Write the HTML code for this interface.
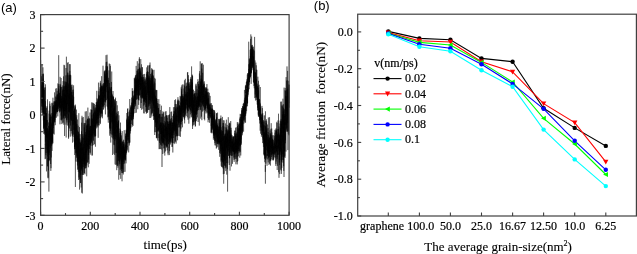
<!DOCTYPE html>
<html><head><meta charset="utf-8"><style>
html,body{margin:0;padding:0;background:#fff;width:637px;height:254px;overflow:hidden}
svg{display:block;will-change:transform}
.t12{font-family:"Liberation Serif",serif;font-size:12px;fill:#000;stroke:#000;stroke-width:0.2px}
.t13{font-family:"Liberation Serif",serif;font-size:13px;fill:#000;stroke:#000;stroke-width:0.12px}
.t8{font-family:"Liberation Serif",serif;font-size:8px}
.sans{font-family:"Liberation Sans",sans-serif;font-size:13px;fill:#000}
</style></head><body>
<svg width="637" height="254" viewBox="0 0 637 254">
<polyline points="40.60,102.4 40.64,60.2 40.68,87.6 40.72,78.4 40.77,79.8 40.81,82.4 40.85,64.7 40.89,82.8 40.93,76.7 40.97,110.2 41.01,88.3 41.06,82.7 41.10,83.7 41.14,79.9 41.18,76.1 41.22,83.4 41.26,93.0 41.30,85.6 41.35,98.8 41.39,86.6 41.43,89.3 41.47,106.4 41.51,95.7 41.55,84.3 41.59,88.2 41.64,96.7 41.68,112.9 41.72,88.1 41.76,88.6 41.80,103.4 41.84,81.7 41.88,88.9 41.93,103.1 41.97,99.9 42.01,94.4 42.05,101.7 42.09,64.6 42.13,106.6 42.17,82.7 42.22,74.2 42.26,98.5 42.30,104.1 42.34,90.1 42.38,82.4 42.42,96.6 42.46,95.9 42.51,115.0 42.55,106.9 42.59,100.0 42.63,112.3 42.67,95.4 42.71,86.2 42.75,106.5 42.80,106.8 42.84,96.4 42.88,89.0 42.92,103.0 42.96,67.3 43.00,110.0 43.04,107.7 43.09,78.6 43.13,102.5 43.17,88.6 43.21,113.0 43.25,74.3 43.29,90.3 43.33,113.6 43.38,120.4 43.42,73.6 43.46,97.6 43.50,109.8 43.54,96.7 43.58,128.9 43.62,89.0 43.67,111.8 43.71,91.7 43.75,128.0 43.79,107.5 43.83,102.7 43.87,83.1 43.91,134.0 43.96,120.6 44.00,121.0 44.04,127.2 44.08,115.8 44.12,101.2 44.16,99.1 44.20,99.4 44.25,133.0 44.29,90.0 44.33,103.6 44.37,108.2 44.41,117.0 44.45,122.9 44.49,94.8 44.54,87.6 44.58,115.0 44.62,134.6 44.66,127.8 44.70,119.7 44.74,111.6 44.78,121.7 44.83,113.5 44.87,130.9 44.91,105.3 44.95,120.7 44.99,117.1 45.03,128.1 45.07,123.2 45.12,159.2 45.16,144.6 45.20,145.0 45.24,87.3 45.28,115.4 45.32,111.3 45.36,130.4 45.41,84.3 45.45,141.7 45.49,140.2 45.53,101.2 45.57,106.9 45.61,110.1 45.65,124.5 45.70,134.8 45.74,158.7 45.78,121.3 45.82,137.8 45.86,127.9 45.90,155.2 45.94,138.4 45.99,149.3 46.03,108.2 46.07,123.5 46.11,113.2 46.15,153.0 46.19,138.9 46.23,122.7 46.28,120.5 46.32,136.9 46.36,116.8 46.40,113.1 46.44,137.7 46.48,171.4 46.52,125.8 46.56,120.7 46.61,110.3 46.65,107.7 46.69,140.4 46.73,146.4 46.77,132.0 46.81,138.0 46.85,134.5 46.90,135.2 46.94,106.2 46.98,125.3 47.02,135.6 47.06,120.1 47.10,125.7 47.14,119.9 47.19,128.7 47.23,149.9 47.27,127.9 47.31,132.6 47.35,149.9 47.39,147.2 47.43,166.0 47.48,99.4 47.52,151.7 47.56,128.3 47.60,139.4 47.64,152.1 47.68,156.6 47.72,156.1 47.77,140.7 47.81,166.6 47.85,133.5 47.89,136.3 47.93,153.1 47.97,129.5 48.01,177.6 48.06,157.7 48.10,178.3 48.14,139.7 48.18,133.7 48.22,143.6 48.26,153.9 48.30,130.8 48.35,148.1 48.39,141.4 48.43,170.4 48.47,130.5 48.51,160.8 48.55,131.3 48.59,125.9 48.64,130.6 48.68,122.4 48.72,146.0 48.76,161.4 48.80,145.9 48.84,153.8 48.88,191.6 48.93,147.2 48.97,145.7 49.01,137.2 49.05,113.6 49.09,155.0 49.13,110.6 49.17,152.7 49.22,140.8 49.26,160.6 49.30,139.5 49.34,126.0 49.38,146.6 49.42,130.3 49.46,136.7 49.51,140.4 49.55,137.1 49.59,136.0 49.63,124.5 49.67,135.6 49.71,101.3 49.75,135.8 49.80,117.4 49.84,157.7 49.88,160.1 49.92,103.7 49.96,140.1 50.00,135.1 50.04,118.9 50.09,146.2 50.13,128.7 50.17,105.8 50.21,131.7 50.25,133.6 50.29,137.8 50.33,114.4 50.38,146.3 50.42,148.2 50.46,115.3 50.50,123.6 50.54,133.4 50.58,124.9 50.62,164.0 50.67,137.6 50.71,117.0 50.75,120.6 50.79,132.5 50.83,170.9 50.87,130.1 50.91,134.9 50.96,140.8 51.00,131.8 51.04,168.2 51.08,123.6 51.12,143.3 51.16,134.0 51.20,140.8 51.25,113.2 51.29,157.5 51.33,128.8 51.37,130.9 51.41,116.5 51.45,119.4 51.49,137.9 51.54,143.7 51.58,140.0 51.62,146.1 51.66,138.9 51.70,129.1 51.74,139.9 51.78,136.3 51.83,126.7 51.87,102.8 51.91,144.6 51.95,130.5 51.99,122.5 52.03,136.2 52.07,150.9 52.12,123.9 52.16,125.1 52.20,124.4 52.24,140.8 52.28,103.4 52.32,129.8 52.36,139.4 52.41,115.4 52.45,142.1 52.49,130.7 52.53,118.0 52.57,126.4 52.61,106.5 52.65,117.2 52.70,143.7 52.74,113.1 52.78,143.1 52.82,121.6 52.86,133.1 52.90,122.5 52.94,97.7 52.99,115.4 53.03,123.2 53.07,108.9 53.11,106.6 53.15,124.3 53.19,113.5 53.23,102.6 53.28,112.7 53.32,128.1 53.36,114.4 53.40,128.2 53.44,133.8 53.48,118.7 53.52,107.1 53.57,105.3 53.61,117.4 53.65,125.8 53.69,119.7 53.73,122.0 53.77,112.5 53.81,119.1 53.86,111.8 53.90,112.9 53.94,103.9 53.98,101.2 54.02,110.8 54.06,105.0 54.10,106.1 54.15,120.1 54.19,113.1 54.23,134.5 54.27,121.4 54.31,107.9 54.35,119.5 54.39,115.7 54.44,106.9 54.48,121.2 54.52,105.7 54.56,92.4 54.60,117.8 54.64,106.4 54.68,122.6 54.73,105.7 54.77,101.4 54.81,122.0 54.85,101.8 54.89,111.2 54.93,120.1 54.97,110.0 55.02,108.4 55.06,109.5 55.10,114.8 55.14,102.6 55.18,112.8 55.22,112.4 55.26,125.2 55.31,105.4 55.35,101.0 55.39,113.0 55.43,104.5 55.47,109.4 55.51,108.1 55.55,115.7 55.60,102.0 55.64,106.0 55.68,88.6 55.72,99.8 55.76,117.7 55.80,101.0 55.84,100.7 55.89,96.7 55.93,110.0 55.97,106.8 56.01,96.5 56.05,110.2 56.09,107.0 56.13,110.6 56.18,99.9 56.22,117.7 56.26,107.6 56.30,103.4 56.34,100.2 56.38,102.2 56.42,110.4 56.47,101.7 56.51,111.8 56.55,107.9 56.59,113.6 56.63,109.4 56.67,102.5 56.71,88.2 56.76,105.0 56.80,108.6 56.84,103.6 56.88,106.5 56.92,98.4 56.96,99.0 57.00,94.5 57.05,112.2 57.09,102.7 57.13,97.5 57.17,90.8 57.21,99.8 57.25,112.1 57.29,104.3 57.34,94.9 57.38,111.6 57.42,111.5 57.46,107.8 57.50,106.2 57.54,109.1 57.58,104.3 57.63,106.2 57.67,93.8 57.71,112.0 57.75,101.9 57.79,116.4 57.83,83.4 57.87,105.8 57.92,108.1 57.96,97.2 58.00,103.7 58.04,106.2 58.08,104.8 58.12,95.5 58.16,98.8 58.21,108.6 58.25,110.9 58.29,100.8 58.33,100.7 58.37,101.7 58.41,109.0 58.45,90.8 58.49,88.4 58.54,101.1 58.58,90.3 58.62,94.8 58.66,100.8 58.70,55.2 58.74,90.4 58.78,107.2 58.83,84.0 58.87,104.9 58.91,85.6 58.95,88.3 58.99,105.9 59.03,96.3 59.07,92.6 59.12,95.9 59.16,104.3 59.20,99.5 59.24,99.7 59.28,110.0 59.32,93.2 59.36,95.5 59.41,95.0 59.45,111.2 59.49,109.5 59.53,112.4 59.57,99.7 59.61,98.5 59.65,108.3 59.70,96.1 59.74,108.2 59.78,107.2 59.82,93.1 59.86,99.2 59.90,98.8 59.94,117.4 59.99,124.3 60.03,99.0 60.07,100.2 60.11,76.8 60.15,102.3 60.19,100.0 60.23,89.1 60.28,108.3 60.32,83.9 60.36,98.0 60.40,101.7 60.44,87.1 60.48,109.3 60.52,111.5 60.57,85.6 60.61,85.3 60.65,106.9 60.69,100.1 60.73,87.3 60.77,97.3 60.81,99.3 60.86,98.9 60.90,109.6 60.94,104.8 60.98,120.2 61.02,115.9 61.06,108.2 61.10,78.0 61.15,115.6 61.19,108.7 61.23,86.9 61.27,110.5 61.31,101.6 61.35,119.3 61.39,101.9 61.44,106.9 61.48,104.7 61.52,120.4 61.56,103.0 61.60,97.8 61.64,104.6 61.68,95.8 61.73,103.0 61.77,101.0 61.81,104.3 61.85,124.1 61.89,96.3 61.93,101.6 61.97,98.8 62.02,109.4 62.06,86.9 62.10,92.8 62.14,100.8 62.18,108.0 62.22,100.8 62.26,95.2 62.31,90.6 62.35,107.8 62.39,119.4 62.43,105.5 62.47,103.8 62.51,107.1 62.55,89.5 62.60,97.4 62.64,97.9 62.68,105.1 62.72,100.8 62.76,85.4 62.80,115.8 62.84,123.2 62.89,97.6 62.93,106.2 62.97,104.5 63.01,111.3 63.05,81.1 63.09,122.4 63.13,94.4 63.18,117.8 63.22,101.7 63.26,95.3 63.30,98.6 63.34,112.8 63.38,88.5 63.42,95.2 63.47,93.6 63.51,76.4 63.55,118.5 63.59,108.3 63.63,99.8 63.67,116.6 63.71,86.4 63.76,98.9 63.80,124.7 63.84,114.0 63.88,67.7 63.92,64.8 63.96,84.6 64.00,115.2 64.05,92.7 64.09,96.4 64.13,108.5 64.17,86.4 64.21,102.6 64.25,111.2 64.29,106.4 64.34,105.3 64.38,90.1 64.42,107.0 64.46,92.6 64.50,119.1 64.54,136.0 64.58,87.6 64.63,65.3 64.67,92.3 64.71,104.7 64.75,115.2 64.79,115.7 64.83,86.4 64.87,86.1 64.92,118.7 64.96,81.2 65.00,115.9 65.04,94.8 65.08,110.7 65.12,109.7 65.16,110.8 65.21,111.5 65.25,82.2 65.29,102.9 65.33,98.3 65.37,103.0 65.41,118.0 65.45,93.5 65.50,86.3 65.54,85.9 65.58,92.7 65.62,110.1 65.66,84.3 65.70,116.7 65.74,102.4 65.79,93.8 65.83,75.4 65.87,101.5 65.91,108.8 65.95,68.0 65.99,117.1 66.03,124.7 66.08,102.8 66.12,105.3 66.16,137.5 66.20,117.7 66.24,81.8 66.28,96.6 66.32,94.2 66.37,94.2 66.41,56.7 66.45,109.5 66.49,85.8 66.53,99.4 66.57,94.2 66.61,111.4 66.66,91.4 66.70,82.7 66.74,105.5 66.78,120.4 66.82,90.7 66.86,119.8 66.90,100.7 66.95,86.8 66.99,122.5 67.03,81.8 67.07,113.7 67.11,87.5 67.15,104.0 67.19,74.9 67.24,81.9 67.28,114.8 67.32,99.7 67.36,97.2 67.40,89.0 67.44,104.3 67.48,72.6 67.53,77.5 67.57,94.1 67.61,62.9 67.65,84.9 67.69,95.7 67.73,94.7 67.77,93.3 67.82,125.6 67.86,114.5 67.90,118.2 67.94,96.8 67.98,88.8 68.02,72.7 68.06,91.6 68.11,62.1 68.15,87.7 68.19,110.6 68.23,125.2 68.27,114.1 68.31,83.3 68.35,106.2 68.40,84.6 68.44,111.9 68.48,96.2 68.52,112.6 68.56,138.8 68.60,113.8 68.64,137.5 68.69,101.3 68.73,92.9 68.77,120.8 68.81,127.4 68.85,89.3 68.89,99.9 68.93,74.7 68.98,95.4 69.02,113.6 69.06,97.4 69.10,89.5 69.14,75.6 69.18,105.2 69.22,112.4 69.27,109.1 69.31,103.5 69.35,78.2 69.39,128.5 69.43,98.5 69.47,97.1 69.51,111.7 69.56,64.1 69.60,98.9 69.64,97.9 69.68,106.4 69.72,122.5 69.76,108.4 69.80,70.9 69.85,95.5 69.89,104.5 69.93,103.8 69.97,80.8 70.01,74.8 70.05,110.8 70.09,107.6 70.14,102.0 70.18,74.8 70.22,131.1 70.26,64.2 70.30,97.2 70.34,136.6 70.38,100.9 70.42,107.3 70.47,85.0 70.51,125.5 70.55,83.7 70.59,108.3 70.63,106.6 70.67,88.1 70.71,118.8 70.76,82.8 70.80,75.3 70.84,104.9 70.88,99.1 70.92,113.0 70.96,120.3 71.00,101.6 71.05,97.9 71.09,98.5 71.13,101.0 71.17,119.3 71.21,103.7 71.25,113.5 71.29,106.0 71.34,94.7 71.38,120.9 71.42,92.1 71.46,108.2 71.50,130.9 71.54,91.9 71.58,107.8 71.63,84.9 71.67,101.4 71.71,86.7 71.75,104.0 71.79,101.5 71.83,111.7 71.87,133.6 71.92,114.3 71.96,120.1 72.00,109.7 72.04,107.1 72.08,98.6 72.12,84.6 72.16,112.4 72.21,135.6 72.25,118.8 72.29,104.2 72.33,136.5 72.37,106.2 72.41,103.7 72.45,95.3 72.50,99.2 72.54,109.8 72.58,142.6 72.62,110.9 72.66,99.1 72.70,105.6 72.74,111.3 72.79,90.1 72.83,116.8 72.87,125.2 72.91,120.0 72.95,124.2 72.99,97.4 73.03,91.9 73.08,134.6 73.12,132.1 73.16,94.9 73.20,89.5 73.24,117.6 73.28,125.1 73.32,120.6 73.37,110.8 73.41,120.8 73.45,120.5 73.49,117.9 73.53,92.9 73.57,85.3 73.61,108.2 73.66,96.7 73.70,123.2 73.74,129.8 73.78,123.8 73.82,115.2 73.86,121.5 73.90,136.9 73.95,111.0 73.99,133.9 74.03,131.2 74.07,125.3 74.11,141.7 74.15,112.3 74.19,135.2 74.24,110.0 74.28,112.4 74.32,108.7 74.36,129.3 74.40,110.8 74.44,124.4 74.48,108.6 74.53,138.5 74.57,149.2 74.61,127.9 74.65,147.3 74.69,133.0 74.73,155.0 74.77,127.5 74.82,105.3 74.86,146.9 74.90,125.4 74.94,113.5 74.98,118.9 75.02,106.1 75.06,126.1 75.11,114.3 75.15,149.1 75.19,138.4 75.23,107.2 75.27,109.6 75.31,122.7 75.35,104.6 75.40,187.0 75.44,130.7 75.48,121.2 75.52,124.5 75.56,139.0 75.60,151.9 75.64,153.2 75.69,133.7 75.73,145.2 75.77,123.9 75.81,139.8 75.85,121.5 75.89,144.8 75.93,118.3 75.98,122.4 76.02,161.5 76.06,143.7 76.10,116.9 76.14,129.5 76.18,139.0 76.22,140.6 76.27,126.3 76.31,139.4 76.35,134.8 76.39,157.9 76.43,146.7 76.47,121.3 76.51,109.6 76.56,141.4 76.60,156.5 76.64,143.1 76.68,153.1 76.72,134.7 76.76,123.0 76.80,115.2 76.85,143.7 76.89,152.0 76.93,124.0 76.97,145.8 77.01,135.0 77.05,154.8 77.09,135.8 77.14,135.6 77.18,136.0 77.22,161.8 77.26,144.8 77.30,133.9 77.34,130.4 77.38,130.2 77.43,165.5 77.47,119.5 77.51,133.2 77.55,154.3 77.59,162.2 77.63,143.5 77.67,156.9 77.72,156.7 77.76,160.1 77.80,146.8 77.84,170.0 77.88,149.5 77.92,168.9 77.96,131.1 78.01,160.8 78.05,129.1 78.09,125.7 78.13,154.9 78.17,135.7 78.21,154.5 78.25,132.4 78.30,171.9 78.34,148.6 78.38,132.0 78.42,151.4 78.46,162.1 78.50,137.7 78.54,157.0 78.59,180.0 78.63,162.6 78.67,149.6 78.71,141.4 78.75,158.8 78.79,127.4 78.83,113.2 78.88,140.5 78.92,134.3 78.96,177.4 79.00,153.1 79.04,136.2 79.08,133.6 79.12,159.1 79.17,138.9 79.21,142.8 79.25,150.5 79.29,153.5 79.33,153.8 79.37,154.2 79.41,172.8 79.46,179.2 79.50,127.1 79.54,189.6 79.58,155.2 79.62,172.8 79.66,141.9 79.70,158.8 79.75,157.2 79.79,155.7 79.83,167.6 79.87,164.3 79.91,138.4 79.95,152.6 79.99,166.3 80.04,165.7 80.08,149.4 80.12,150.3 80.16,152.3 80.20,137.2 80.24,134.2 80.28,179.9 80.33,148.5 80.37,156.4 80.41,142.9 80.45,175.6 80.49,182.9 80.53,151.4 80.57,163.1 80.62,142.9 80.66,183.1 80.70,169.8 80.74,141.6 80.78,174.9 80.82,160.8 80.86,161.6 80.91,160.8 80.95,144.4 80.99,146.5 81.03,165.0 81.07,154.3 81.11,140.0 81.15,187.5 81.20,151.8 81.24,146.2 81.28,144.0 81.32,166.2 81.36,170.7 81.40,159.1 81.44,169.1 81.49,131.3 81.53,149.3 81.57,147.7 81.61,155.3 81.65,163.0 81.69,122.7 81.73,192.7 81.78,141.4 81.82,160.7 81.86,168.5 81.90,168.8 81.94,159.1 81.98,115.8 82.02,137.9 82.06,167.3 82.11,140.5 82.15,138.3 82.19,117.6 82.23,174.6 82.27,163.3 82.31,193.5 82.35,153.0 82.40,153.5 82.44,137.3 82.48,150.7 82.52,159.0 82.56,163.7 82.60,175.0 82.64,155.1 82.69,147.1 82.73,160.9 82.77,144.2 82.81,134.0 82.85,172.6 82.89,147.8 82.93,155.8 82.98,164.3 83.02,135.7 83.06,164.0 83.10,160.8 83.14,151.8 83.18,159.8 83.22,140.8 83.27,117.0 83.31,148.4 83.35,138.0 83.39,167.1 83.43,157.1 83.47,143.9 83.51,153.4 83.56,174.9 83.60,171.2 83.64,158.4 83.68,159.4 83.72,147.5 83.76,149.8 83.80,161.8 83.85,149.8 83.89,156.7 83.93,132.9 83.97,123.5 84.01,122.9 84.05,144.0 84.09,173.6 84.14,171.1 84.18,134.2 84.22,124.6 84.26,164.3 84.30,158.7 84.34,127.4 84.38,168.6 84.43,153.5 84.47,173.0 84.51,156.2 84.55,165.5 84.59,155.7 84.63,133.7 84.67,146.0 84.72,138.2 84.76,164.1 84.80,132.5 84.84,123.1 84.88,161.3 84.92,169.3 84.96,174.4 85.01,168.2 85.05,123.0 85.09,136.9 85.13,139.4 85.17,148.3 85.21,111.5 85.25,148.3 85.30,153.1 85.34,132.0 85.38,150.2 85.42,168.4 85.46,148.7 85.50,165.8 85.54,164.9 85.59,154.5 85.63,153.9 85.67,141.0 85.71,168.2 85.75,139.1 85.79,135.2 85.83,158.7 85.88,134.6 85.92,153.8 85.96,164.2 86.00,147.7 86.04,148.0 86.08,161.4 86.12,158.6 86.17,120.4 86.21,124.1 86.25,167.7 86.29,152.1 86.33,111.2 86.37,123.2 86.41,145.7 86.46,129.1 86.50,152.7 86.54,146.2 86.58,152.9 86.62,125.7 86.66,154.7 86.70,176.3 86.75,131.6 86.79,165.5 86.83,160.0 86.87,154.5 86.91,142.9 86.95,125.2 86.99,129.7 87.04,155.9 87.08,159.2 87.12,162.9 87.16,158.6 87.20,157.5 87.24,136.2 87.28,123.9 87.33,146.1 87.37,150.6 87.41,144.0 87.45,118.6 87.49,134.2 87.53,119.1 87.57,144.4 87.62,125.6 87.66,139.2 87.70,146.6 87.74,143.5 87.78,162.3 87.82,124.2 87.86,107.6 87.91,155.2 87.95,161.9 87.99,162.1 88.03,144.6 88.07,148.2 88.11,141.8 88.15,120.4 88.20,131.1 88.24,146.9 88.28,130.8 88.32,167.3 88.36,116.3 88.40,132.5 88.44,154.9 88.49,129.6 88.53,121.9 88.57,118.5 88.61,127.5 88.65,159.6 88.69,143.5 88.73,144.9 88.78,129.9 88.82,149.2 88.86,138.5 88.90,123.9 88.94,130.3 88.98,139.4 89.02,152.7 89.07,135.4 89.11,143.0 89.15,163.8 89.19,124.7 89.23,118.5 89.27,148.8 89.31,141.2 89.36,133.7 89.40,138.5 89.44,130.3 89.48,141.5 89.52,129.9 89.56,144.9 89.60,118.5 89.65,123.0 89.69,135.3 89.73,127.4 89.77,142.5 89.81,132.7 89.85,126.0 89.89,135.6 89.94,125.9 89.98,112.5 90.02,117.8 90.06,122.0 90.10,126.2 90.14,133.4 90.18,143.7 90.23,139.0 90.27,154.6 90.31,148.1 90.35,129.3 90.39,152.7 90.43,146.6 90.47,125.7 90.52,135.3 90.56,145.1 90.60,134.2 90.64,143.9 90.68,136.0 90.72,139.8 90.76,126.8 90.81,135.5 90.85,126.0 90.89,139.0 90.93,109.3 90.97,134.5 91.01,145.9 91.05,137.4 91.10,129.7 91.14,136.6 91.18,119.3 91.22,119.4 91.26,125.2 91.30,127.7 91.34,141.4 91.39,118.3 91.43,141.6 91.47,109.8 91.51,119.4 91.55,128.5 91.59,143.1 91.63,121.2 91.68,102.4 91.72,133.7 91.76,128.1 91.80,115.2 91.84,115.5 91.88,119.7 91.92,129.3 91.97,136.0 92.01,109.9 92.05,155.5 92.09,127.2 92.13,123.1 92.17,135.6 92.21,128.7 92.26,155.4 92.30,140.4 92.34,122.7 92.38,122.3 92.42,120.9 92.46,122.7 92.50,134.7 92.55,118.9 92.59,145.7 92.63,125.4 92.67,124.6 92.71,137.5 92.75,102.6 92.79,114.9 92.84,133.0 92.88,125.9 92.92,125.6 92.96,130.3 93.00,118.4 93.04,123.4 93.08,109.3 93.13,103.2 93.17,139.9 93.21,114.0 93.25,116.5 93.29,141.1 93.33,137.1 93.37,118.4 93.42,118.2 93.46,123.4 93.50,113.0 93.54,130.5 93.58,125.7 93.62,125.4 93.66,132.6 93.71,132.1 93.75,145.1 93.79,141.2 93.83,103.4 93.87,133.8 93.91,110.1 93.95,106.4 93.99,131.3 94.04,114.7 94.08,119.1 94.12,135.1 94.16,114.8 94.20,112.0 94.24,126.1 94.28,136.5 94.33,128.3 94.37,104.0 94.41,114.4 94.45,120.1 94.49,144.1 94.53,132.0 94.57,131.4 94.62,135.4 94.66,117.7 94.70,126.8 94.74,126.8 94.78,109.7 94.82,120.7 94.86,127.3 94.91,108.2 94.95,129.9 94.99,129.3 95.03,132.3 95.07,111.3 95.11,121.4 95.15,136.9 95.20,129.1 95.24,110.7 95.28,122.3 95.32,136.0 95.36,118.7 95.40,123.8 95.44,146.7 95.49,118.8 95.53,117.9 95.57,107.4 95.61,111.3 95.65,135.9 95.69,117.1 95.73,104.9 95.78,107.7 95.82,118.4 95.86,127.0 95.90,109.6 95.94,126.2 95.98,112.3 96.02,121.8 96.07,123.6 96.11,124.4 96.15,112.4 96.19,115.2 96.23,122.8 96.27,102.1 96.31,118.7 96.36,122.4 96.40,128.4 96.44,115.8 96.48,114.0 96.52,117.6 96.56,107.5 96.60,113.3 96.65,120.2 96.69,118.6 96.73,103.3 96.77,111.4 96.81,90.8 96.85,123.9 96.89,108.6 96.94,117.2 96.98,101.9 97.02,113.3 97.06,119.1 97.10,125.1 97.14,98.3 97.18,123.2 97.23,111.6 97.27,104.5 97.31,118.6 97.35,109.7 97.39,109.6 97.43,104.8 97.47,115.2 97.52,112.9 97.56,110.4 97.60,101.4 97.64,106.3 97.68,116.5 97.72,126.3 97.76,111.4 97.81,127.5 97.85,111.3 97.89,99.0 97.93,118.3 97.97,100.1 98.01,115.4 98.05,122.8 98.10,107.2 98.14,109.5 98.18,137.8 98.22,112.9 98.26,113.1 98.30,118.8 98.34,108.8 98.39,108.7 98.43,113.9 98.47,82.6 98.51,125.2 98.55,97.2 98.59,97.0 98.63,115.0 98.68,109.1 98.72,94.7 98.76,110.9 98.80,95.7 98.84,100.5 98.88,91.3 98.92,98.8 98.97,112.4 99.01,109.2 99.05,111.1 99.09,117.8 99.13,106.8 99.17,99.8 99.21,103.9 99.26,125.4 99.30,107.1 99.34,110.1 99.38,105.3 99.42,109.0 99.46,111.0 99.50,105.8 99.55,104.0 99.59,96.8 99.63,95.9 99.67,109.9 99.71,113.6 99.75,115.5 99.79,105.5 99.84,95.4 99.88,111.7 99.92,111.4 99.96,87.2 100.00,113.2 100.04,110.6 100.08,122.8 100.13,90.8 100.17,88.9 100.21,112.3 100.25,82.7 100.29,94.7 100.33,124.1 100.37,91.2 100.42,80.8 100.46,99.8 100.50,113.5 100.54,107.2 100.58,107.1 100.62,97.8 100.66,118.3 100.71,107.7 100.75,113.5 100.79,83.5 100.83,105.1 100.87,87.9 100.91,104.9 100.95,103.0 101.00,87.6 101.04,102.5 101.08,113.7 101.12,106.0 101.16,106.9 101.20,89.9 101.24,91.9 101.29,86.7 101.33,101.0 101.37,113.1 101.41,104.2 101.45,99.0 101.49,85.8 101.53,103.9 101.58,95.8 101.62,76.2 101.66,78.1 101.70,94.1 101.74,87.5 101.78,117.1 101.82,98.1 101.87,85.4 101.91,91.7 101.95,115.8 101.99,86.0 102.03,105.9 102.07,101.9 102.11,113.7 102.16,102.6 102.20,91.6 102.24,102.2 102.28,96.7 102.32,107.0 102.36,94.9 102.40,118.3 102.45,94.1 102.49,100.2 102.53,87.4 102.57,96.3 102.61,95.0 102.65,96.4 102.69,104.6 102.74,88.1 102.78,84.4 102.82,106.4 102.86,90.5 102.90,86.0 102.94,106.4 102.98,102.0 103.03,65.7 103.07,88.7 103.11,101.5 103.15,101.9 103.19,86.7 103.23,109.7 103.27,83.3 103.32,89.4 103.36,93.2 103.40,91.6 103.44,100.4 103.48,102.6 103.52,90.7 103.56,106.4 103.61,83.3 103.65,88.3 103.69,109.3 103.73,91.4 103.77,101.8 103.81,85.3 103.85,87.0 103.90,88.6 103.94,91.4 103.98,85.7 104.02,89.4 104.06,96.3 104.10,101.9 104.14,89.9 104.19,95.6 104.23,98.2 104.27,76.8 104.31,71.3 104.35,105.2 104.39,101.8 104.43,88.2 104.48,91.2 104.52,77.3 104.56,72.4 104.60,90.4 104.64,70.8 104.68,96.6 104.72,79.1 104.77,89.6 104.81,107.5 104.85,106.9 104.89,82.9 104.93,97.7 104.97,74.1 105.01,78.9 105.06,89.5 105.10,100.9 105.14,78.5 105.18,91.1 105.22,85.9 105.26,69.9 105.30,82.8 105.35,101.8 105.39,83.0 105.43,114.4 105.47,93.6 105.51,74.9 105.55,98.2 105.59,101.4 105.64,102.5 105.68,98.9 105.72,77.2 105.76,75.5 105.80,72.9 105.84,71.2 105.88,72.4 105.92,94.4 105.97,100.2 106.01,55.2 106.05,92.2 106.09,66.2 106.13,78.2 106.17,69.9 106.21,62.1 106.26,83.4 106.30,83.8 106.34,77.9 106.38,76.5 106.42,70.8 106.46,81.8 106.50,76.0 106.55,86.8 106.59,68.6 106.63,86.9 106.67,90.6 106.71,100.1 106.75,97.8 106.79,87.0 106.84,76.1 106.88,61.7 106.92,85.0 106.96,103.2 107.00,106.5 107.04,54.7 107.08,76.0 107.13,81.4 107.17,72.7 107.21,88.5 107.25,86.8 107.29,79.8 107.33,86.1 107.37,66.4 107.42,74.5 107.46,75.6 107.50,98.7 107.54,66.5 107.58,84.8 107.62,97.6 107.66,87.1 107.71,98.4 107.75,79.8 107.79,93.9 107.83,100.1 107.87,117.3 107.91,98.1 107.95,107.3 108.00,89.2 108.04,90.6 108.08,110.0 108.12,97.5 108.16,108.8 108.20,99.8 108.24,118.8 108.29,122.7 108.33,80.2 108.37,116.5 108.41,97.7 108.45,98.6 108.49,90.9 108.53,102.5 108.58,77.8 108.62,83.3 108.66,83.0 108.70,97.9 108.74,119.7 108.78,104.7 108.82,99.9 108.87,86.6 108.91,70.4 108.95,101.3 108.99,97.9 109.03,101.2 109.07,116.9 109.11,94.0 109.16,94.0 109.20,63.5 109.24,105.7 109.28,97.0 109.32,87.1 109.36,104.0 109.40,83.1 109.45,90.8 109.49,128.5 109.53,110.7 109.57,113.6 109.61,111.2 109.65,109.9 109.69,103.4 109.74,135.7 109.78,99.8 109.82,112.6 109.86,98.1 109.90,96.3 109.94,64.0 109.98,72.2 110.03,126.8 110.07,126.1 110.11,96.0 110.15,102.6 110.19,113.0 110.23,133.5 110.27,131.7 110.32,87.5 110.36,92.7 110.40,65.8 110.44,128.6 110.48,105.7 110.52,130.8 110.56,89.2 110.61,110.8 110.65,106.8 110.69,109.0 110.73,139.2 110.77,142.6 110.81,128.6 110.85,100.2 110.90,121.2 110.94,128.7 110.98,116.3 111.02,116.7 111.06,115.5 111.10,93.4 111.14,112.1 111.19,134.4 111.23,92.4 111.27,110.1 111.31,122.6 111.35,87.0 111.39,107.2 111.43,81.9 111.48,99.9 111.52,87.0 111.56,95.6 111.60,102.4 111.64,106.1 111.68,107.5 111.72,71.5 111.77,137.4 111.81,106.9 111.85,93.6 111.89,101.5 111.93,117.2 111.97,95.7 112.01,105.6 112.06,104.9 112.10,121.9 112.14,100.7 112.18,120.9 112.22,119.4 112.26,111.3 112.30,134.7 112.35,114.5 112.39,94.7 112.43,119.6 112.47,116.9 112.51,114.4 112.55,119.2 112.59,155.0 112.64,119.6 112.68,123.6 112.72,112.0 112.76,138.4 112.80,115.6 112.84,103.3 112.88,96.5 112.93,126.1 112.97,129.9 113.01,91.0 113.05,105.7 113.09,128.8 113.13,135.5 113.17,96.3 113.22,111.9 113.26,132.9 113.30,110.2 113.34,111.8 113.38,110.5 113.42,97.8 113.46,120.8 113.51,125.3 113.55,96.9 113.59,122.3 113.63,139.5 113.67,124.5 113.71,137.2 113.75,112.3 113.80,144.7 113.84,108.7 113.88,153.8 113.92,114.8 113.96,110.5 114.00,107.8 114.04,116.1 114.09,114.9 114.13,111.8 114.17,118.1 114.21,135.0 114.25,138.9 114.29,118.6 114.33,145.2 114.38,107.9 114.42,107.6 114.46,106.1 114.50,135.5 114.54,99.5 114.58,102.3 114.62,147.5 114.67,155.0 114.71,149.0 114.75,101.6 114.79,127.0 114.83,141.0 114.87,128.9 114.91,100.3 114.96,121.9 115.00,99.3 115.04,107.3 115.08,164.4 115.12,139.8 115.16,103.9 115.20,103.5 115.25,136.5 115.29,118.8 115.33,138.9 115.37,118.5 115.41,126.1 115.45,133.7 115.49,112.5 115.54,97.7 115.58,110.1 115.62,118.6 115.66,127.0 115.70,129.6 115.74,129.6 115.78,139.6 115.83,116.1 115.87,154.7 115.91,165.0 115.95,137.7 115.99,134.9 116.03,152.8 116.07,142.9 116.12,135.4 116.16,129.6 116.20,120.1 116.24,113.1 116.28,144.0 116.32,153.0 116.36,115.4 116.41,132.1 116.45,137.2 116.49,126.5 116.53,121.1 116.57,127.4 116.61,101.1 116.65,133.3 116.70,129.6 116.74,170.2 116.78,150.6 116.82,129.2 116.86,135.0 116.90,164.2 116.94,162.5 116.99,138.8 117.03,133.7 117.07,111.7 117.11,130.6 117.15,133.5 117.19,124.1 117.23,165.7 117.28,105.3 117.32,134.7 117.36,144.0 117.40,144.6 117.44,165.8 117.48,114.1 117.52,125.3 117.56,139.6 117.61,140.4 117.65,132.0 117.69,126.0 117.73,156.5 117.77,121.8 117.81,129.8 117.85,162.8 117.90,167.7 117.94,153.9 117.98,126.2 118.02,126.6 118.06,126.1 118.10,122.6 118.14,134.2 118.19,161.0 118.23,144.7 118.27,129.6 118.31,129.5 118.35,123.6 118.39,160.6 118.43,111.2 118.48,146.5 118.52,120.7 118.56,126.7 118.60,120.5 118.64,157.6 118.68,142.1 118.72,179.7 118.77,128.3 118.81,127.7 118.85,152.7 118.89,152.5 118.93,140.3 118.97,115.3 119.01,165.6 119.06,153.1 119.10,150.9 119.14,136.9 119.18,154.6 119.22,137.8 119.26,146.5 119.30,143.4 119.35,163.8 119.39,139.9 119.43,141.9 119.47,162.0 119.51,150.1 119.55,146.9 119.59,144.1 119.64,160.4 119.68,139.1 119.72,154.2 119.76,175.1 119.80,153.6 119.84,138.2 119.88,133.0 119.93,150.8 119.97,133.2 120.01,128.8 120.05,139.7 120.09,135.5 120.13,160.8 120.17,131.3 120.22,169.8 120.26,140.5 120.30,151.5 120.34,158.5 120.38,153.0 120.42,159.3 120.46,138.3 120.51,122.6 120.55,148.2 120.59,130.2 120.63,143.8 120.67,162.5 120.71,178.8 120.75,144.1 120.80,137.8 120.84,147.9 120.88,149.5 120.92,132.9 120.96,155.2 121.00,139.2 121.04,154.5 121.09,146.8 121.13,163.7 121.17,162.2 121.21,152.6 121.25,151.3 121.29,157.7 121.33,168.6 121.38,165.1 121.42,155.0 121.46,156.9 121.50,171.2 121.54,135.4 121.58,159.8 121.62,144.0 121.67,169.0 121.71,148.8 121.75,153.2 121.79,142.7 121.83,154.9 121.87,163.4 121.91,173.0 121.96,141.6 122.00,150.6 122.04,181.3 122.08,165.5 122.12,155.7 122.16,161.4 122.20,131.1 122.25,172.9 122.29,157.9 122.33,141.7 122.37,168.5 122.41,150.3 122.45,146.4 122.49,162.2 122.54,160.9 122.58,152.1 122.62,155.9 122.66,142.9 122.70,141.8 122.74,165.4 122.78,169.5 122.83,160.4 122.87,159.7 122.91,151.8 122.95,154.3 122.99,146.0 123.03,173.2 123.07,149.5 123.12,159.3 123.16,155.0 123.20,140.7 123.24,174.5 123.28,150.8 123.32,146.7 123.36,155.6 123.41,145.1 123.45,154.5 123.49,144.2 123.53,159.7 123.57,154.4 123.61,139.7 123.65,164.1 123.70,155.4 123.74,142.0 123.78,156.9 123.82,157.5 123.86,172.0 123.90,144.0 123.94,161.5 123.99,151.6 124.03,158.8 124.07,149.7 124.11,151.7 124.15,157.2 124.19,139.8 124.23,130.2 124.28,151.7 124.32,147.1 124.36,152.4 124.40,158.1 124.44,149.1 124.48,163.5 124.52,150.7 124.57,152.2 124.61,159.5 124.65,156.9 124.69,149.8 124.73,151.9 124.77,142.6 124.81,144.0 124.86,151.3 124.90,158.6 124.94,145.5 124.98,158.6 125.02,169.9 125.06,171.8 125.10,149.5 125.15,160.0 125.19,155.1 125.23,156.7 125.27,157.0 125.31,153.5 125.35,156.4 125.39,149.6 125.44,144.6 125.48,149.7 125.52,152.0 125.56,159.4 125.60,150.2 125.64,153.9 125.68,160.7 125.73,135.9 125.77,142.6 125.81,150.7 125.85,145.1 125.89,134.0 125.93,154.7 125.97,143.3 126.02,133.3 126.06,163.4 126.10,129.8 126.14,142.9 126.18,135.7 126.22,143.6 126.26,148.2 126.31,133.4 126.35,140.6 126.39,140.1 126.43,130.6 126.47,153.2 126.51,142.5 126.55,137.4 126.60,119.9 126.64,136.4 126.68,141.1 126.72,134.5 126.76,152.3 126.80,113.0 126.84,116.0 126.89,135.6 126.93,118.6 126.97,137.1 127.01,130.6 127.05,143.5 127.09,141.4 127.13,150.7 127.18,146.3 127.22,149.6 127.26,141.7 127.30,147.1 127.34,140.9 127.38,129.0 127.42,121.8 127.47,121.9 127.51,139.6 127.55,108.9 127.59,135.9 127.63,125.8 127.67,141.3 127.71,135.4 127.76,125.0 127.80,132.9 127.84,108.3 127.88,135.1 127.92,136.9 127.96,112.1 128.00,140.6 128.05,130.0 128.09,132.9 128.13,115.8 128.17,137.0 128.21,136.6 128.25,130.1 128.29,119.7 128.34,137.8 128.38,142.7 128.42,133.6 128.46,139.7 128.50,123.0 128.54,130.5 128.58,132.6 128.63,130.0 128.67,152.4 128.71,132.4 128.75,122.2 128.79,136.2 128.83,116.5 128.87,131.1 128.92,135.0 128.96,122.0 129.00,123.6 129.04,117.2 129.08,127.8 129.12,119.5 129.16,143.4 129.21,132.3 129.25,123.5 129.29,111.4 129.33,145.5 129.37,138.0 129.41,129.6 129.45,126.7 129.49,126.2 129.54,119.7 129.58,142.5 129.62,125.9 129.66,109.7 129.70,117.1 129.74,99.0 129.78,129.4 129.83,130.2 129.87,139.7 129.91,142.6 129.95,114.8 129.99,126.3 130.03,131.3 130.07,129.1 130.12,116.6 130.16,128.7 130.20,125.6 130.24,133.5 130.28,120.2 130.32,118.1 130.36,115.3 130.41,116.3 130.45,112.5 130.49,116.3 130.53,123.8 130.57,123.2 130.61,130.9 130.65,128.5 130.70,124.0 130.74,107.6 130.78,123.0 130.82,128.2 130.86,105.6 130.90,107.1 130.94,108.4 130.99,107.4 131.03,113.9 131.07,107.9 131.11,119.5 131.15,104.9 131.19,114.4 131.23,110.8 131.28,106.4 131.32,124.1 131.36,114.9 131.40,119.2 131.44,111.2 131.48,120.2 131.52,119.2 131.57,112.1 131.61,97.6 131.65,120.3 131.69,118.9 131.73,114.2 131.77,114.5 131.81,113.2 131.86,113.6 131.90,102.9 131.94,111.0 131.98,114.1 132.02,105.7 132.06,102.3 132.10,126.9 132.15,115.7 132.19,107.5 132.23,105.7 132.27,88.2 132.31,97.1 132.35,107.1 132.39,120.3 132.44,91.0 132.48,102.5 132.52,125.0 132.56,114.0 132.60,111.6 132.64,118.1 132.68,106.5 132.73,105.8 132.77,113.3 132.81,114.2 132.85,97.5 132.89,119.6 132.93,91.2 132.97,100.0 133.02,125.9 133.06,101.2 133.10,111.0 133.14,96.5 133.18,102.2 133.22,98.5 133.26,101.0 133.31,109.8 133.35,118.9 133.39,111.2 133.43,116.8 133.47,99.0 133.51,115.6 133.55,107.7 133.60,114.3 133.64,98.9 133.68,100.3 133.72,113.6 133.76,106.9 133.80,102.5 133.84,95.5 133.89,100.2 133.93,104.9 133.97,106.7 134.01,95.7 134.05,97.3 134.09,103.6 134.13,90.3 134.18,107.5 134.22,99.2 134.26,97.9 134.30,78.0 134.34,84.8 134.38,89.3 134.42,93.0 134.47,88.3 134.51,100.9 134.55,98.5 134.59,94.8 134.63,79.0 134.67,109.1 134.71,94.1 134.76,101.6 134.80,90.2 134.84,95.9 134.88,102.0 134.92,97.6 134.96,104.0 135.00,93.5 135.05,113.0 135.09,77.5 135.13,89.5 135.17,103.3 135.21,91.8 135.25,89.8 135.29,77.3 135.34,104.6 135.38,75.6 135.42,97.8 135.46,94.7 135.50,100.8 135.54,106.2 135.58,85.6 135.63,84.3 135.67,88.8 135.71,75.2 135.75,99.2 135.79,87.4 135.83,92.5 135.87,79.9 135.92,90.6 135.96,84.3 136.00,89.3 136.04,79.2 136.08,99.6 136.12,83.1 136.16,65.9 136.21,95.3 136.25,85.8 136.29,79.8 136.33,112.7 136.37,87.6 136.41,74.6 136.45,81.6 136.50,91.3 136.54,85.0 136.58,99.6 136.62,97.7 136.66,78.7 136.70,86.9 136.74,92.8 136.79,81.9 136.83,81.1 136.87,94.7 136.91,90.1 136.95,70.8 136.99,79.4 137.03,80.7 137.08,83.7 137.12,77.4 137.16,98.7 137.20,74.7 137.24,73.4 137.28,86.8 137.32,61.2 137.37,73.8 137.41,90.9 137.45,70.6 137.49,75.5 137.53,95.5 137.57,88.9 137.61,84.7 137.66,86.6 137.70,77.0 137.74,87.2 137.78,81.8 137.82,109.2 137.86,89.4 137.90,80.2 137.95,83.1 137.99,84.2 138.03,69.3 138.07,75.0 138.11,99.3 138.15,68.8 138.19,77.3 138.24,93.9 138.28,98.9 138.32,72.5 138.36,98.2 138.40,79.3 138.44,100.1 138.48,88.1 138.53,79.9 138.57,90.4 138.61,88.6 138.65,104.2 138.69,104.9 138.73,79.0 138.77,94.5 138.82,77.4 138.86,63.5 138.90,70.7 138.94,81.2 138.98,89.3 139.02,100.4 139.06,82.9 139.11,79.1 139.15,69.2 139.19,81.4 139.23,84.9 139.27,58.8 139.31,95.2 139.35,93.4 139.40,57.2 139.44,72.0 139.48,81.8 139.52,81.5 139.56,67.7 139.60,72.7 139.64,71.4 139.69,87.0 139.73,86.2 139.77,95.7 139.81,77.7 139.85,67.5 139.89,86.5 139.93,85.9 139.98,89.0 140.02,95.1 140.06,76.3 140.10,90.6 140.14,72.1 140.18,84.1 140.22,89.7 140.27,81.5 140.31,85.0 140.35,68.5 140.39,76.2 140.43,84.5 140.47,70.7 140.51,74.3 140.56,108.1 140.60,85.9 140.64,74.8 140.68,72.8 140.72,97.5 140.76,59.1 140.80,79.7 140.85,89.5 140.89,77.3 140.93,88.4 140.97,72.4 141.01,83.0 141.05,83.6 141.09,83.3 141.14,84.7 141.18,83.7 141.22,94.8 141.26,103.0 141.30,77.5 141.34,80.7 141.38,80.5 141.42,68.2 141.47,64.3 141.51,70.1 141.55,86.7 141.59,77.2 141.63,79.8 141.67,109.8 141.71,95.5 141.76,82.1 141.80,77.9 141.84,98.3 141.88,76.5 141.92,97.0 141.96,90.5 142.00,98.6 142.05,77.5 142.09,94.1 142.13,67.0 142.17,83.6 142.21,96.3 142.25,92.6 142.29,67.5 142.34,92.8 142.38,90.7 142.42,85.7 142.46,79.3 142.50,83.9 142.54,81.2 142.58,96.3 142.63,91.7 142.67,97.8 142.71,94.2 142.75,75.1 142.79,89.1 142.83,108.8 142.87,77.4 142.92,91.0 142.96,80.9 143.00,80.1 143.04,90.8 143.08,97.8 143.12,96.5 143.16,93.7 143.21,98.6 143.25,74.1 143.29,97.6 143.33,93.8 143.37,88.4 143.41,90.2 143.45,82.4 143.50,101.6 143.54,83.7 143.58,77.1 143.62,91.1 143.66,85.9 143.70,90.8 143.74,105.7 143.79,90.5 143.83,93.1 143.87,113.1 143.91,79.4 143.95,95.9 143.99,103.4 144.03,106.8 144.08,113.6 144.12,87.2 144.16,99.0 144.20,92.7 144.24,89.6 144.28,87.3 144.32,80.8 144.37,97.3 144.41,101.2 144.45,85.0 144.49,101.6 144.53,89.8 144.57,85.5 144.61,73.9 144.66,104.6 144.70,101.0 144.74,91.5 144.78,90.7 144.82,82.1 144.86,99.0 144.90,93.5 144.95,99.1 144.99,95.6 145.03,80.4 145.07,78.8 145.11,97.8 145.15,77.3 145.19,96.2 145.24,102.4 145.28,80.9 145.32,100.1 145.36,93.8 145.40,98.7 145.44,87.0 145.48,93.1 145.53,97.5 145.57,111.7 145.61,100.6 145.65,98.2 145.69,79.8 145.73,96.4 145.77,85.9 145.82,92.2 145.86,95.7 145.90,103.0 145.94,99.0 145.98,94.7 146.02,92.0 146.06,107.0 146.11,83.1 146.15,92.9 146.19,107.2 146.23,90.2 146.27,101.3 146.31,101.9 146.35,113.8 146.40,104.5 146.44,73.8 146.48,91.9 146.52,95.0 146.56,100.9 146.60,95.9 146.64,112.7 146.69,103.8 146.73,77.9 146.77,83.9 146.81,67.4 146.85,110.7 146.89,89.3 146.93,88.9 146.98,72.1 147.02,85.1 147.06,95.1 147.10,85.1 147.14,85.1 147.18,82.3 147.22,113.0 147.27,82.7 147.31,71.7 147.35,82.7 147.39,84.6 147.43,87.5 147.47,85.5 147.51,74.7 147.56,85.9 147.60,93.0 147.64,71.1 147.68,112.4 147.72,109.0 147.76,65.8 147.80,83.6 147.85,100.5 147.89,104.6 147.93,110.1 147.97,65.2 148.01,74.3 148.05,81.7 148.09,94.9 148.14,74.7 148.18,93.5 148.22,93.7 148.26,97.1 148.30,72.0 148.34,90.6 148.38,89.1 148.43,83.0 148.47,104.6 148.51,84.6 148.55,106.6 148.59,80.9 148.63,109.9 148.67,109.3 148.72,78.1 148.76,92.8 148.80,92.6 148.84,76.3 148.88,98.7 148.92,96.3 148.96,77.7 149.01,90.1 149.05,100.2 149.09,86.8 149.13,79.8 149.17,109.9 149.21,76.4 149.25,93.4 149.30,103.5 149.34,99.3 149.38,65.5 149.42,84.9 149.46,87.5 149.50,86.5 149.54,97.4 149.59,96.4 149.63,91.1 149.67,92.9 149.71,102.6 149.75,105.7 149.79,64.9 149.83,118.0 149.88,82.4 149.92,99.8 149.96,68.4 150.00,62.5 150.04,73.3 150.08,104.0 150.12,101.5 150.17,90.0 150.21,87.8 150.25,95.2 150.29,77.9 150.33,82.3 150.37,80.3 150.41,101.0 150.46,90.8 150.50,73.9 150.54,95.0 150.58,97.5 150.62,108.7 150.66,83.5 150.70,96.0 150.75,117.9 150.79,86.7 150.83,86.2 150.87,97.6 150.91,84.6 150.95,91.1 150.99,84.6 151.04,81.1 151.08,102.7 151.12,86.5 151.16,78.4 151.20,87.7 151.24,89.6 151.28,95.4 151.33,103.7 151.37,114.5 151.41,75.8 151.45,88.5 151.49,68.3 151.53,94.6 151.57,98.5 151.62,83.4 151.66,80.1 151.70,79.1 151.74,72.6 151.78,100.0 151.82,116.5 151.86,77.4 151.91,113.0 151.95,90.6 151.99,74.2 152.03,99.3 152.07,101.9 152.11,97.2 152.15,88.9 152.20,113.6 152.24,88.6 152.28,100.4 152.32,100.7 152.36,80.9 152.40,68.8 152.44,70.4 152.49,87.4 152.53,97.2 152.57,70.0 152.61,83.7 152.65,112.6 152.69,70.3 152.73,99.2 152.78,98.0 152.82,103.7 152.86,75.1 152.90,98.2 152.94,76.5 152.98,111.2 153.02,83.5 153.06,99.4 153.11,84.6 153.15,96.6 153.19,75.7 153.23,98.8 153.27,103.0 153.31,95.4 153.35,116.0 153.40,100.5 153.44,105.9 153.48,102.5 153.52,119.9 153.56,88.3 153.60,93.3 153.64,94.1 153.69,104.8 153.73,100.5 153.77,107.9 153.81,101.3 153.85,91.4 153.89,97.2 153.93,103.6 153.98,69.8 154.02,115.8 154.06,91.7 154.10,94.5 154.14,102.3 154.18,96.2 154.22,81.5 154.27,96.8 154.31,117.1 154.35,113.1 154.39,115.6 154.43,93.6 154.47,98.0 154.51,113.9 154.56,119.4 154.60,101.7 154.64,89.5 154.68,77.8 154.72,135.0 154.76,83.3 154.80,107.6 154.85,113.4 154.89,132.1 154.93,105.2 154.97,101.7 155.01,109.0 155.05,109.8 155.09,120.3 155.14,112.6 155.18,95.0 155.22,78.8 155.26,108.5 155.30,96.9 155.34,122.6 155.38,89.7 155.43,108.4 155.47,97.3 155.51,95.8 155.55,126.9 155.59,109.0 155.63,105.0 155.67,116.4 155.72,98.2 155.76,103.5 155.80,130.2 155.84,132.2 155.88,112.6 155.92,116.4 155.96,122.5 156.01,107.1 156.05,107.8 156.09,90.4 156.13,115.8 156.17,113.4 156.21,105.7 156.25,125.0 156.30,89.9 156.34,116.2 156.38,138.1 156.42,98.3 156.46,109.5 156.50,127.9 156.54,98.5 156.59,101.0 156.63,98.8 156.67,136.6 156.71,119.5 156.75,118.4 156.79,137.9 156.83,117.0 156.88,90.1 156.92,108.8 156.96,101.1 157.00,138.4 157.04,99.1 157.08,119.1 157.12,109.9 157.17,111.0 157.21,116.6 157.25,115.0 157.29,109.0 157.33,103.0 157.37,109.9 157.41,105.7 157.46,107.5 157.50,119.3 157.54,116.5 157.58,123.8 157.62,116.0 157.66,140.5 157.70,111.0 157.75,108.2 157.79,131.1 157.83,112.0 157.87,121.5 157.91,131.2 157.95,119.5 157.99,116.9 158.04,131.7 158.08,124.8 158.12,115.4 158.16,108.3 158.20,117.4 158.24,103.6 158.28,112.3 158.33,110.0 158.37,125.3 158.41,130.5 158.45,115.3 158.49,117.8 158.53,110.8 158.57,107.9 158.62,118.3 158.66,129.1 158.70,128.3 158.74,129.7 158.78,120.6 158.82,99.2 158.86,133.7 158.91,138.0 158.95,133.8 158.99,133.8 159.03,136.0 159.07,149.2 159.11,128.1 159.15,141.3 159.20,133.6 159.24,132.3 159.28,124.0 159.32,122.0 159.36,114.0 159.40,131.9 159.44,122.8 159.49,113.8 159.53,118.5 159.57,114.2 159.61,143.0 159.65,124.2 159.69,128.0 159.73,114.7 159.78,116.6 159.82,104.2 159.86,125.1 159.90,129.9 159.94,146.3 159.98,149.0 160.02,135.0 160.07,133.1 160.11,130.7 160.15,125.6 160.19,148.9 160.23,116.7 160.27,128.0 160.31,110.0 160.36,116.7 160.40,133.4 160.44,134.0 160.48,133.0 160.52,126.6 160.56,123.0 160.60,124.8 160.65,126.5 160.69,141.1 160.73,144.7 160.77,135.0 160.81,125.6 160.85,121.9 160.89,134.1 160.94,129.1 160.98,113.9 161.02,144.7 161.06,131.5 161.10,128.5 161.14,123.3 161.18,123.3 161.23,140.3 161.27,122.7 161.31,132.7 161.35,137.9 161.39,149.5 161.43,105.7 161.47,131.6 161.52,127.7 161.56,140.1 161.60,141.6 161.64,128.0 161.68,137.7 161.72,130.8 161.76,116.7 161.81,122.6 161.85,139.9 161.89,146.0 161.93,138.7 161.97,130.4 162.01,167.0 162.05,137.5 162.10,135.6 162.14,117.1 162.18,138.7 162.22,125.8 162.26,138.9 162.30,137.7 162.34,139.5 162.39,142.8 162.43,139.4 162.47,122.8 162.51,123.1 162.55,142.6 162.59,137.3 162.63,118.0 162.68,114.0 162.72,141.4 162.76,154.0 162.80,140.8 162.84,130.8 162.88,135.6 162.92,111.3 162.97,123.8 163.01,142.7 163.05,141.3 163.09,113.3 163.13,144.4 163.17,138.4 163.21,142.2 163.26,131.5 163.30,133.5 163.34,123.4 163.38,136.5 163.42,141.9 163.46,124.8 163.50,137.0 163.55,128.7 163.59,143.4 163.63,142.9 163.67,112.1 163.71,138.0 163.75,143.3 163.79,128.6 163.84,131.9 163.88,132.5 163.92,123.3 163.96,132.9 164.00,148.5 164.04,138.5 164.08,148.2 164.13,143.3 164.17,145.2 164.21,135.1 164.25,141.2 164.29,152.8 164.33,147.7 164.37,137.0 164.42,127.4 164.46,125.3 164.50,136.2 164.54,138.0 164.58,116.6 164.62,135.9 164.66,137.1 164.71,136.7 164.75,128.7 164.79,155.6 164.83,142.1 164.87,120.9 164.91,127.0 164.95,141.3 164.99,138.6 165.04,134.9 165.08,133.4 165.12,131.7 165.16,129.4 165.20,123.9 165.24,139.1 165.28,111.6 165.33,126.6 165.37,145.3 165.41,126.0 165.45,122.1 165.49,151.4 165.53,143.3 165.57,131.9 165.62,127.7 165.66,131.1 165.70,129.9 165.74,130.9 165.78,126.1 165.82,138.4 165.86,127.8 165.91,115.8 165.95,120.7 165.99,133.1 166.03,123.3 166.07,111.2 166.11,147.4 166.15,137.7 166.20,128.4 166.24,127.9 166.28,137.8 166.32,146.0 166.36,126.8 166.40,136.7 166.44,126.7 166.49,135.9 166.53,121.7 166.57,115.0 166.61,133.5 166.65,132.0 166.69,139.6 166.73,116.1 166.78,145.9 166.82,133.5 166.86,147.6 166.90,129.3 166.94,147.2 166.98,131.9 167.02,133.9 167.07,141.9 167.11,115.3 167.15,122.1 167.19,150.4 167.23,117.8 167.27,127.6 167.31,137.8 167.36,146.8 167.40,127.5 167.44,133.7 167.48,121.4 167.52,128.7 167.56,142.5 167.60,135.7 167.65,132.1 167.69,136.6 167.73,133.8 167.77,134.1 167.81,129.0 167.85,122.8 167.89,139.1 167.94,121.1 167.98,142.5 168.02,153.4 168.06,147.3 168.10,155.2 168.14,122.0 168.18,134.7 168.23,124.1 168.27,124.9 168.31,115.2 168.35,120.1 168.39,140.6 168.43,139.0 168.47,144.0 168.52,143.3 168.56,139.8 168.60,124.0 168.64,130.8 168.68,139.3 168.72,144.4 168.76,128.2 168.81,126.9 168.85,127.5 168.89,147.8 168.93,137.5 168.97,128.6 169.01,124.0 169.05,136.1 169.10,114.8 169.14,129.3 169.18,125.8 169.22,125.7 169.26,133.6 169.30,135.7 169.34,155.1 169.39,132.5 169.43,138.4 169.47,123.2 169.51,114.5 169.55,142.9 169.59,151.2 169.63,121.1 169.68,130.5 169.72,142.5 169.76,132.1 169.80,107.1 169.84,141.4 169.88,129.6 169.92,138.4 169.97,121.1 170.01,139.9 170.05,141.5 170.09,123.4 170.13,135.8 170.17,124.2 170.21,125.5 170.26,121.3 170.30,126.1 170.34,123.6 170.38,142.6 170.42,128.1 170.46,118.8 170.50,144.5 170.55,135.9 170.59,140.5 170.63,129.6 170.67,137.4 170.71,129.1 170.75,120.2 170.79,131.2 170.84,131.5 170.88,131.4 170.92,138.7 170.96,111.9 171.00,133.0 171.04,121.5 171.08,126.9 171.13,134.5 171.17,130.4 171.21,122.7 171.25,137.6 171.29,129.1 171.33,139.5 171.37,142.6 171.42,125.9 171.46,118.0 171.50,130.4 171.54,138.1 171.58,132.8 171.62,117.1 171.66,111.5 171.71,119.4 171.75,119.3 171.79,135.9 171.83,129.9 171.87,138.5 171.91,128.3 171.95,146.9 172.00,129.2 172.04,134.9 172.08,124.7 172.12,133.7 172.16,140.5 172.20,137.1 172.24,142.4 172.29,122.3 172.33,133.6 172.37,146.8 172.41,131.3 172.45,126.8 172.49,126.0 172.53,122.8 172.58,129.9 172.62,143.1 172.66,133.1 172.70,127.9 172.74,119.7 172.78,115.9 172.82,152.5 172.87,122.9 172.91,128.9 172.95,122.6 172.99,129.5 173.03,123.1 173.07,128.7 173.11,143.0 173.16,119.5 173.20,133.0 173.24,126.5 173.28,134.9 173.32,119.8 173.36,131.4 173.40,116.4 173.45,107.2 173.49,112.6 173.53,116.4 173.57,114.4 173.61,122.9 173.65,138.1 173.69,113.9 173.74,130.9 173.78,127.6 173.82,118.3 173.86,115.8 173.90,130.3 173.94,130.8 173.98,121.8 174.03,123.9 174.07,125.3 174.11,111.2 174.15,126.5 174.19,128.5 174.23,144.1 174.27,111.4 174.32,115.7 174.36,125.9 174.40,118.6 174.44,120.5 174.48,124.9 174.52,121.5 174.56,124.3 174.61,129.4 174.65,107.0 174.69,130.5 174.73,100.1 174.77,142.8 174.81,134.3 174.85,117.7 174.90,135.2 174.94,122.5 174.98,128.8 175.02,132.2 175.06,127.8 175.10,124.0 175.14,130.6 175.19,121.8 175.23,119.7 175.27,113.4 175.31,104.0 175.35,140.9 175.39,132.1 175.43,108.3 175.48,127.8 175.52,125.7 175.56,99.3 175.60,114.2 175.64,122.1 175.68,141.9 175.72,135.1 175.77,136.8 175.81,126.5 175.85,133.9 175.89,110.1 175.93,129.6 175.97,130.8 176.01,108.9 176.06,125.4 176.10,139.2 176.14,143.6 176.18,137.9 176.22,114.6 176.26,121.3 176.30,116.5 176.35,135.5 176.39,112.8 176.43,110.5 176.47,104.2 176.51,123.9 176.55,126.4 176.59,115.1 176.64,113.3 176.68,119.4 176.72,135.9 176.76,106.7 176.80,120.7 176.84,123.4 176.88,125.0 176.92,134.5 176.97,129.8 177.01,123.7 177.05,136.4 177.09,132.9 177.13,123.6 177.17,122.9 177.21,107.6 177.26,121.6 177.30,111.7 177.34,107.8 177.38,117.0 177.42,101.3 177.46,110.2 177.50,114.1 177.55,140.3 177.59,115.9 177.63,123.5 177.67,136.1 177.71,127.8 177.75,106.5 177.79,99.8 177.84,108.8 177.88,109.0 177.92,97.2 177.96,99.9 178.00,99.8 178.04,111.5 178.08,132.9 178.13,135.8 178.17,106.6 178.21,112.4 178.25,102.6 178.29,99.7 178.33,116.0 178.37,117.1 178.42,109.7 178.46,123.0 178.50,112.6 178.54,127.5 178.58,110.6 178.62,124.8 178.66,113.5 178.71,116.8 178.75,122.0 178.79,101.2 178.83,107.4 178.87,114.4 178.91,112.1 178.95,117.6 179.00,106.3 179.04,100.7 179.08,113.5 179.12,117.5 179.16,106.0 179.20,127.0 179.24,121.5 179.29,123.1 179.33,122.3 179.37,105.1 179.41,136.2 179.45,106.6 179.49,118.0 179.53,121.6 179.58,117.5 179.62,116.0 179.66,105.6 179.70,109.9 179.74,114.3 179.78,127.5 179.82,107.1 179.87,121.0 179.91,118.4 179.95,114.7 179.99,108.1 180.03,112.3 180.07,95.9 180.11,114.8 180.16,117.0 180.20,108.3 180.24,118.9 180.28,116.7 180.32,106.0 180.36,121.9 180.40,107.8 180.45,136.8 180.49,102.6 180.53,104.8 180.57,106.4 180.61,115.1 180.65,124.3 180.69,113.4 180.74,108.4 180.78,131.4 180.82,122.4 180.86,109.2 180.90,110.8 180.94,96.5 180.98,112.0 181.03,128.6 181.07,99.8 181.11,97.2 181.15,112.4 181.19,87.3 181.23,124.5 181.27,95.8 181.32,103.4 181.36,108.8 181.40,122.0 181.44,113.9 181.48,91.4 181.52,93.3 181.56,111.5 181.61,89.0 181.65,106.4 181.69,101.1 181.73,116.6 181.77,120.3 181.81,85.4 181.85,112.6 181.90,114.4 181.94,100.8 181.98,102.3 182.02,96.4 182.06,104.4 182.10,111.4 182.14,120.2 182.19,121.0 182.23,104.5 182.27,99.2 182.31,116.3 182.35,84.4 182.39,93.5 182.43,112.6 182.48,127.3 182.52,99.0 182.56,107.1 182.60,95.7 182.64,105.3 182.68,105.2 182.72,98.8 182.77,109.3 182.81,104.0 182.85,110.1 182.89,103.5 182.93,94.2 182.97,106.5 183.01,112.9 183.06,97.8 183.10,117.1 183.14,108.9 183.18,101.4 183.22,104.9 183.26,100.7 183.30,96.2 183.35,112.6 183.39,112.3 183.43,100.0 183.47,102.3 183.51,102.0 183.55,110.1 183.59,116.9 183.64,97.7 183.68,106.4 183.72,103.4 183.76,108.6 183.80,116.5 183.84,95.4 183.88,84.5 183.93,101.7 183.97,88.5 184.01,118.4 184.05,96.6 184.09,100.4 184.13,105.1 184.17,104.7 184.22,98.8 184.26,102.7 184.30,111.4 184.34,99.7 184.38,119.7 184.42,105.7 184.46,80.3 184.51,110.6 184.55,85.7 184.59,105.3 184.63,123.4 184.67,112.2 184.71,91.2 184.75,94.2 184.80,102.0 184.84,115.5 184.88,94.7 184.92,112.2 184.96,104.5 185.00,100.5 185.04,99.8 185.09,117.5 185.13,86.7 185.17,90.2 185.21,109.8 185.25,110.6 185.29,88.3 185.33,78.8 185.38,89.6 185.42,106.1 185.46,94.2 185.50,114.5 185.54,108.0 185.58,103.0 185.62,102.3 185.67,105.6 185.71,108.5 185.75,100.2 185.79,102.5 185.83,107.7 185.87,99.1 185.91,109.7 185.96,98.3 186.00,91.9 186.04,101.4 186.08,116.0 186.12,114.3 186.16,83.2 186.20,102.2 186.25,94.1 186.29,95.7 186.33,95.4 186.37,96.5 186.41,93.4 186.45,95.8 186.49,100.8 186.54,86.1 186.58,85.7 186.62,86.8 186.66,86.5 186.70,104.2 186.74,86.6 186.78,97.1 186.83,98.5 186.87,105.1 186.91,98.0 186.95,108.5 186.99,96.9 187.03,100.1 187.07,105.4 187.12,82.3 187.16,101.5 187.20,113.2 187.24,98.7 187.28,95.0 187.32,117.4 187.36,98.6 187.41,110.4 187.45,72.6 187.49,98.6 187.53,92.2 187.57,101.5 187.61,110.0 187.65,95.9 187.70,95.1 187.74,72.0 187.78,105.8 187.82,111.6 187.86,99.1 187.90,92.5 187.94,101.4 187.99,108.5 188.03,104.4 188.07,119.7 188.11,91.6 188.15,83.0 188.19,102.8 188.23,111.1 188.28,92.6 188.32,97.6 188.36,90.6 188.40,84.0 188.44,89.6 188.48,75.2 188.52,100.4 188.56,102.5 188.61,107.1 188.65,88.5 188.69,90.6 188.73,79.2 188.77,81.6 188.81,107.1 188.85,123.7 188.90,85.9 188.94,93.1 188.98,107.6 189.02,89.8 189.06,103.8 189.10,94.1 189.14,94.1 189.19,107.4 189.23,94.6 189.27,83.5 189.31,106.5 189.35,97.7 189.39,91.3 189.43,88.5 189.48,103.8 189.52,89.5 189.56,98.8 189.60,108.6 189.64,96.2 189.68,109.6 189.72,82.1 189.77,104.2 189.81,103.4 189.85,118.4 189.89,97.7 189.93,107.5 189.97,95.7 190.01,85.6 190.06,87.6 190.10,89.5 190.14,106.2 190.18,88.7 190.22,97.9 190.26,107.6 190.30,111.5 190.35,108.1 190.39,114.4 190.43,84.7 190.47,92.0 190.51,101.1 190.55,110.2 190.59,103.2 190.64,88.8 190.68,95.3 190.72,78.7 190.76,106.7 190.80,77.1 190.84,100.0 190.88,109.8 190.93,107.9 190.97,79.0 191.01,100.0 191.05,93.7 191.09,94.4 191.13,116.7 191.17,101.3 191.22,81.8 191.26,86.0 191.30,106.5 191.34,101.2 191.38,85.8 191.42,79.8 191.46,92.7 191.51,94.1 191.55,108.4 191.59,66.4 191.63,107.0 191.67,113.2 191.71,81.6 191.75,93.2 191.80,117.4 191.84,95.0 191.88,100.0 191.92,111.1 191.96,91.9 192.00,95.9 192.04,82.2 192.09,106.9 192.13,95.4 192.17,96.8 192.21,74.6 192.25,111.9 192.29,109.0 192.33,92.6 192.38,115.1 192.42,75.5 192.46,101.0 192.50,83.2 192.54,129.0 192.58,76.1 192.62,88.7 192.67,93.9 192.71,111.2 192.75,111.6 192.79,106.8 192.83,100.0 192.87,126.2 192.91,95.1 192.96,106.5 193.00,122.2 193.04,89.9 193.08,94.7 193.12,115.5 193.16,108.6 193.20,89.6 193.25,104.3 193.29,124.9 193.33,101.5 193.37,113.0 193.41,105.8 193.45,97.2 193.49,122.1 193.54,115.3 193.58,117.8 193.62,103.5 193.66,106.3 193.70,107.8 193.74,110.3 193.78,101.9 193.83,100.4 193.87,119.8 193.91,94.3 193.95,101.4 193.99,102.2 194.03,100.9 194.07,93.7 194.12,98.5 194.16,115.2 194.20,103.1 194.24,99.2 194.28,124.7 194.32,93.3 194.36,118.3 194.41,111.2 194.45,93.5 194.49,103.6 194.53,103.9 194.57,121.5 194.61,117.8 194.65,105.4 194.70,96.3 194.74,91.1 194.78,107.0 194.82,94.4 194.86,107.2 194.90,107.0 194.94,113.1 194.99,119.7 195.03,110.7 195.07,114.5 195.11,108.0 195.15,120.6 195.19,118.4 195.23,126.5 195.28,124.4 195.32,103.1 195.36,95.8 195.40,117.3 195.44,122.5 195.48,104.2 195.52,126.2 195.57,111.7 195.61,109.6 195.65,114.0 195.69,95.6 195.73,92.9 195.77,106.0 195.81,97.2 195.86,109.0 195.90,108.9 195.94,84.6 195.98,99.9 196.02,113.7 196.06,83.7 196.10,104.1 196.15,93.0 196.19,86.2 196.23,119.0 196.27,118.4 196.31,102.0 196.35,100.9 196.39,121.2 196.44,119.0 196.48,105.6 196.52,115.0 196.56,106.4 196.60,101.5 196.64,111.7 196.68,99.8 196.73,110.9 196.77,101.4 196.81,98.8 196.85,97.3 196.89,108.6 196.93,113.9 196.97,107.9 197.02,92.9 197.06,109.7 197.10,92.1 197.14,89.2 197.18,99.7 197.22,111.2 197.26,109.6 197.31,108.0 197.35,117.4 197.39,111.2 197.43,96.6 197.47,109.9 197.51,97.3 197.55,105.0 197.60,107.2 197.64,99.1 197.68,82.0 197.72,97.9 197.76,95.7 197.80,98.0 197.84,94.0 197.89,85.2 197.93,79.2 197.97,106.7 198.01,108.0 198.05,102.8 198.09,97.4 198.13,122.0 198.18,105.9 198.22,97.7 198.26,107.6 198.30,96.2 198.34,105.7 198.38,100.2 198.42,103.3 198.47,97.1 198.51,90.4 198.55,102.4 198.59,110.1 198.63,83.9 198.67,88.6 198.71,81.2 198.76,106.3 198.80,92.0 198.84,106.1 198.88,84.2 198.92,105.0 198.96,86.6 199.00,87.8 199.05,100.8 199.09,88.7 199.13,85.9 199.17,105.3 199.21,92.7 199.25,109.7 199.29,125.6 199.34,86.1 199.38,88.9 199.42,73.5 199.46,77.9 199.50,100.9 199.54,97.0 199.58,96.6 199.63,98.9 199.67,82.0 199.71,71.1 199.75,106.7 199.79,95.9 199.83,107.2 199.87,92.2 199.92,102.3 199.96,85.7 200.00,92.3 200.04,90.2 200.08,97.0 200.12,110.1 200.16,100.4 200.21,61.3 200.25,90.7 200.29,92.0 200.33,102.2 200.37,93.6 200.41,82.8 200.45,81.7 200.49,87.3 200.54,82.5 200.58,109.6 200.62,99.1 200.66,92.1 200.70,103.6 200.74,118.6 200.78,88.5 200.83,90.7 200.87,87.3 200.91,75.4 200.95,82.9 200.99,79.1 201.03,96.9 201.07,96.4 201.12,101.7 201.16,80.9 201.20,103.1 201.24,78.2 201.28,88.1 201.32,106.6 201.36,105.8 201.41,63.9 201.45,116.7 201.49,103.3 201.53,87.0 201.57,87.3 201.61,80.3 201.65,92.9 201.70,80.5 201.74,82.1 201.78,77.5 201.82,68.6 201.86,120.2 201.90,100.7 201.94,63.6 201.99,95.0 202.03,82.5 202.07,63.0 202.11,87.0 202.15,92.4 202.19,97.0 202.23,103.5 202.28,79.6 202.32,89.5 202.36,98.3 202.40,96.9 202.44,95.1 202.48,91.7 202.52,105.5 202.57,75.5 202.61,72.8 202.65,111.7 202.69,96.0 202.73,104.3 202.77,93.8 202.81,86.9 202.86,85.9 202.90,93.1 202.94,86.0 202.98,90.8 203.02,90.8 203.06,101.4 203.10,101.2 203.15,110.6 203.19,84.0 203.23,91.9 203.27,103.5 203.31,96.6 203.35,64.7 203.39,96.9 203.44,92.8 203.48,87.6 203.52,88.4 203.56,85.1 203.60,106.4 203.64,101.2 203.68,95.9 203.73,106.2 203.77,104.2 203.81,84.8 203.85,82.4 203.89,83.0 203.93,102.5 203.97,94.1 204.02,107.7 204.06,100.3 204.10,92.5 204.14,81.2 204.18,92.1 204.22,119.0 204.26,87.7 204.31,86.4 204.35,92.9 204.39,109.8 204.43,95.0 204.47,83.8 204.51,89.2 204.55,94.3 204.60,96.6 204.64,106.5 204.68,120.4 204.72,110.2 204.76,102.7 204.80,96.0 204.84,88.0 204.89,102.3 204.93,109.5 204.97,104.9 205.01,95.3 205.05,103.5 205.09,94.6 205.13,95.4 205.18,94.8 205.22,98.0 205.26,96.6 205.30,107.5 205.34,97.7 205.38,96.8 205.42,108.0 205.47,104.6 205.51,108.9 205.55,91.0 205.59,110.8 205.63,98.4 205.67,88.8 205.71,97.3 205.76,87.5 205.80,89.8 205.84,95.3 205.88,107.9 205.92,87.2 205.96,102.0 206.00,97.2 206.05,113.5 206.09,101.5 206.13,105.2 206.17,112.4 206.21,90.7 206.25,97.4 206.29,87.7 206.34,93.4 206.38,103.4 206.42,99.4 206.46,104.3 206.50,97.7 206.54,95.5 206.58,100.2 206.63,94.2 206.67,92.5 206.71,88.8 206.75,100.7 206.79,105.3 206.83,92.2 206.87,98.3 206.92,84.1 206.96,92.9 207.00,102.7 207.04,92.4 207.08,105.8 207.12,99.5 207.16,105.5 207.21,98.7 207.25,92.4 207.29,102.9 207.33,108.5 207.37,99.6 207.41,106.3 207.45,98.6 207.50,101.3 207.54,112.7 207.58,103.9 207.62,97.7 207.66,108.2 207.70,104.9 207.74,101.1 207.79,109.5 207.83,88.7 207.87,109.0 207.91,117.9 207.95,107.4 207.99,93.3 208.03,114.6 208.08,122.3 208.12,109.7 208.16,99.1 208.20,101.8 208.24,105.5 208.28,107.7 208.32,114.4 208.37,110.5 208.41,92.0 208.45,105.0 208.49,106.2 208.53,119.6 208.57,103.5 208.61,98.2 208.66,105.6 208.70,109.5 208.74,95.5 208.78,115.2 208.82,107.2 208.86,113.7 208.90,112.9 208.95,112.0 208.99,118.0 209.03,120.0 209.07,106.0 209.11,108.4 209.15,116.1 209.19,110.2 209.24,105.2 209.28,110.1 209.32,103.7 209.36,106.2 209.40,92.8 209.44,110.8 209.48,122.8 209.53,115.2 209.57,115.1 209.61,111.7 209.65,105.3 209.69,114.1 209.73,111.2 209.77,110.0 209.82,112.8 209.86,107.2 209.90,112.2 209.94,116.0 209.98,118.6 210.02,112.7 210.06,117.6 210.11,113.2 210.15,95.9 210.19,98.3 210.23,110.8 210.27,104.4 210.31,116.6 210.35,103.2 210.40,109.8 210.44,108.9 210.48,107.6 210.52,108.9 210.56,113.0 210.60,114.0 210.64,109.6 210.69,114.8 210.73,117.6 210.77,112.4 210.81,108.9 210.85,109.1 210.89,110.6 210.93,110.4 210.98,115.0 211.02,132.8 211.06,123.0 211.10,115.1 211.14,119.4 211.18,119.5 211.22,124.7 211.27,126.1 211.31,108.5 211.35,132.5 211.39,109.6 211.43,116.8 211.47,110.1 211.51,103.7 211.56,103.2 211.60,131.7 211.64,128.2 211.68,109.7 211.72,108.8 211.76,128.7 211.80,110.3 211.85,121.2 211.89,133.4 211.93,123.8 211.97,129.6 212.01,120.0 212.05,105.4 212.09,112.3 212.14,105.0 212.18,121.4 212.22,108.9 212.26,120.1 212.30,115.4 212.34,114.0 212.38,123.5 212.42,116.0 212.47,113.3 212.51,127.7 212.55,119.7 212.59,108.6 212.63,129.6 212.67,109.3 212.71,122.4 212.76,124.9 212.80,118.8 212.84,114.4 212.88,118.5 212.92,118.5 212.96,112.6 213.00,128.4 213.05,116.9 213.09,116.0 213.13,133.0 213.17,116.2 213.21,109.9 213.25,121.8 213.29,122.6 213.34,122.9 213.38,139.7 213.42,118.4 213.46,134.0 213.50,130.4 213.54,135.3 213.58,122.8 213.63,121.2 213.67,122.3 213.71,126.6 213.75,132.1 213.79,138.0 213.83,110.0 213.87,133.5 213.92,128.0 213.96,125.5 214.00,116.6 214.04,128.2 214.08,110.4 214.12,135.9 214.16,117.9 214.21,124.8 214.25,124.5 214.29,130.8 214.33,114.9 214.37,133.2 214.41,129.8 214.45,139.4 214.50,129.0 214.54,125.5 214.58,110.7 214.62,123.7 214.66,140.9 214.70,123.1 214.74,122.9 214.79,126.0 214.83,134.6 214.87,112.4 214.91,143.0 214.95,132.7 214.99,133.9 215.03,127.8 215.08,144.9 215.12,124.3 215.16,135.2 215.20,129.2 215.24,145.7 215.28,127.3 215.32,134.8 215.37,126.3 215.41,125.3 215.45,128.7 215.49,121.4 215.53,119.4 215.57,129.8 215.61,121.1 215.66,134.4 215.70,135.8 215.74,140.9 215.78,138.3 215.82,127.4 215.86,133.6 215.90,119.9 215.95,133.9 215.99,125.9 216.03,142.3 216.07,124.3 216.11,132.1 216.15,123.9 216.19,136.3 216.24,136.5 216.28,122.0 216.32,148.6 216.36,135.6 216.40,118.6 216.44,123.3 216.48,115.1 216.53,113.6 216.57,130.4 216.61,113.0 216.65,135.3 216.69,117.2 216.73,128.6 216.77,147.7 216.82,129.0 216.86,132.0 216.90,143.7 216.94,129.7 216.98,137.5 217.02,125.3 217.06,129.4 217.11,134.1 217.15,133.1 217.19,126.1 217.23,135.3 217.27,138.9 217.31,139.3 217.35,133.9 217.40,124.9 217.44,140.1 217.48,141.7 217.52,124.8 217.56,112.6 217.60,132.3 217.64,143.7 217.69,142.4 217.73,123.4 217.77,146.8 217.81,126.2 217.85,143.3 217.89,130.7 217.93,143.9 217.98,139.6 218.02,132.8 218.06,141.8 218.10,128.9 218.14,131.6 218.18,132.3 218.22,127.3 218.27,144.3 218.31,144.5 218.35,135.7 218.39,126.5 218.43,140.3 218.47,138.6 218.51,142.1 218.56,136.0 218.60,134.0 218.64,149.8 218.68,130.4 218.72,134.6 218.76,119.1 218.80,132.9 218.85,132.0 218.89,133.4 218.93,142.6 218.97,130.9 219.01,141.2 219.05,133.3 219.09,132.7 219.14,118.8 219.18,141.3 219.22,143.6 219.26,127.6 219.30,131.5 219.34,119.3 219.38,133.9 219.43,126.5 219.47,141.5 219.51,136.4 219.55,143.8 219.59,129.3 219.63,120.5 219.67,137.1 219.72,132.0 219.76,156.8 219.80,140.6 219.84,153.0 219.88,143.8 219.92,135.1 219.96,122.8 220.01,136.2 220.05,145.2 220.09,139.7 220.13,142.4 220.17,142.3 220.21,125.2 220.25,142.5 220.30,131.0 220.34,139.0 220.38,153.9 220.42,118.8 220.46,137.0 220.50,143.5 220.54,151.4 220.59,140.8 220.63,131.4 220.67,148.6 220.71,118.7 220.75,121.6 220.79,141.3 220.83,122.4 220.88,115.5 220.92,130.2 220.96,130.9 221.00,118.1 221.04,161.6 221.08,127.2 221.12,145.7 221.17,149.6 221.21,165.8 221.25,138.3 221.29,160.0 221.33,129.8 221.37,142.2 221.41,138.3 221.46,131.7 221.50,146.7 221.54,164.4 221.58,166.9 221.62,150.9 221.66,130.8 221.70,134.5 221.75,150.5 221.79,150.3 221.83,150.3 221.87,140.9 221.91,133.8 221.95,149.4 221.99,144.0 222.04,160.5 222.08,136.4 222.12,154.1 222.16,160.0 222.20,167.2 222.24,167.1 222.28,132.6 222.33,130.9 222.37,146.3 222.41,134.4 222.45,116.9 222.49,161.8 222.53,150.5 222.57,156.7 222.62,146.9 222.66,158.5 222.70,147.9 222.74,146.5 222.78,167.5 222.82,131.1 222.86,151.3 222.91,126.1 222.95,162.7 222.99,142.2 223.03,130.5 223.07,123.1 223.11,142.3 223.15,168.6 223.20,150.9 223.24,126.1 223.28,120.2 223.32,174.2 223.36,123.0 223.40,127.0 223.44,146.6 223.49,152.0 223.53,164.3 223.57,142.5 223.61,136.2 223.65,153.3 223.69,183.7 223.73,149.4 223.78,147.2 223.82,157.2 223.86,136.2 223.90,136.5 223.94,148.6 223.98,150.9 224.02,126.6 224.06,134.9 224.11,120.4 224.15,140.3 224.19,173.8 224.23,154.1 224.27,160.9 224.31,144.1 224.35,146.2 224.40,146.7 224.44,158.7 224.48,141.0 224.52,165.3 224.56,135.8 224.60,158.1 224.64,148.7 224.69,140.6 224.73,165.8 224.77,158.0 224.81,143.0 224.85,135.4 224.89,156.1 224.93,134.9 224.98,152.5 225.02,133.7 225.06,146.8 225.10,134.1 225.14,142.9 225.18,167.2 225.22,168.3 225.27,139.3 225.31,141.9 225.35,123.4 225.39,149.5 225.43,160.5 225.47,134.3 225.51,133.5 225.56,150.4 225.60,138.0 225.64,148.2 225.68,166.4 225.72,151.9 225.76,154.8 225.80,171.1 225.85,149.1 225.89,155.2 225.93,146.7 225.97,135.7 226.01,167.6 226.05,127.0 226.09,146.9 226.14,130.0 226.18,134.5 226.22,128.1 226.26,142.0 226.30,151.7 226.34,163.0 226.38,119.7 226.43,148.3 226.47,139.7 226.51,136.6 226.55,143.4 226.59,147.7 226.63,143.4 226.67,144.8 226.72,174.6 226.76,146.2 226.80,149.3 226.84,129.0 226.88,159.4 226.92,137.3 226.96,143.1 227.01,133.8 227.05,143.0 227.09,131.5 227.13,126.4 227.17,124.9 227.21,138.7 227.25,144.1 227.30,153.7 227.34,166.5 227.38,169.2 227.42,135.0 227.46,133.9 227.50,153.9 227.54,131.4 227.59,191.6 227.63,157.8 227.67,130.3 227.71,153.8 227.75,163.2 227.79,149.6 227.83,139.4 227.88,141.0 227.92,149.8 227.96,133.1 228.00,147.9 228.04,139.9 228.08,132.9 228.12,129.6 228.17,150.7 228.21,130.4 228.25,145.9 228.29,117.2 228.33,140.0 228.37,144.2 228.41,147.5 228.46,155.6 228.50,149.7 228.54,150.1 228.58,138.6 228.62,127.9 228.66,126.1 228.70,131.5 228.75,145.4 228.79,156.0 228.83,146.8 228.87,144.7 228.91,152.3 228.95,137.2 228.99,144.1 229.04,140.2 229.08,144.6 229.12,138.9 229.16,124.4 229.20,136.8 229.24,131.2 229.28,165.0 229.33,160.9 229.37,134.0 229.41,131.1 229.45,142.5 229.49,123.1 229.53,158.1 229.57,141.7 229.62,136.5 229.66,155.5 229.70,158.3 229.74,144.4 229.78,154.8 229.82,122.6 229.86,133.6 229.91,132.7 229.95,123.6 229.99,152.9 230.03,170.7 230.07,127.7 230.11,136.5 230.15,155.0 230.20,139.7 230.24,143.0 230.28,134.3 230.32,146.8 230.36,132.7 230.40,151.4 230.44,148.9 230.49,147.4 230.53,135.5 230.57,141.3 230.61,148.4 230.65,134.6 230.69,133.8 230.73,121.0 230.78,138.5 230.82,142.4 230.86,153.2 230.90,132.4 230.94,130.2 230.98,155.5 231.02,154.4 231.07,133.7 231.11,139.8 231.15,127.8 231.19,143.8 231.23,156.0 231.27,151.5 231.31,135.4 231.36,147.1 231.40,138.6 231.44,147.5 231.48,140.3 231.52,166.4 231.56,155.4 231.60,147.7 231.65,148.1 231.69,148.4 231.73,152.3 231.77,141.9 231.81,144.0 231.85,144.1 231.89,155.8 231.94,146.7 231.98,150.0 232.02,142.7 232.06,135.1 232.10,143.3 232.14,149.4 232.18,143.4 232.23,141.5 232.27,143.0 232.31,149.8 232.35,149.1 232.39,146.0 232.43,139.0 232.47,141.1 232.52,163.8 232.56,144.9 232.60,150.6 232.64,148.4 232.68,136.4 232.72,155.6 232.76,146.9 232.81,140.1 232.85,151.7 232.89,142.5 232.93,148.7 232.97,137.5 233.01,145.3 233.05,151.1 233.10,143.4 233.14,137.3 233.18,141.3 233.22,151.1 233.26,136.4 233.30,137.8 233.34,151.8 233.39,147.6 233.43,146.6 233.47,144.1 233.51,149.4 233.55,152.2 233.59,149.8 233.63,136.3 233.68,151.0 233.72,137.1 233.76,157.6 233.80,144.6 233.84,150.9 233.88,149.3 233.92,143.6 233.97,154.4 234.01,148.8 234.05,159.9 234.09,151.3 234.13,149.4 234.17,161.9 234.21,155.8 234.26,147.5 234.30,142.6 234.34,159.2 234.38,155.0 234.42,155.0 234.46,145.4 234.50,143.6 234.55,141.7 234.59,154.6 234.63,146.3 234.67,151.5 234.71,133.2 234.75,153.9 234.79,142.4 234.84,130.9 234.88,138.5 234.92,149.7 234.96,157.1 235.00,130.4 235.04,137.5 235.08,147.6 235.13,136.0 235.17,143.6 235.21,139.3 235.25,147.1 235.29,136.0 235.33,143.9 235.37,140.2 235.42,147.1 235.46,145.6 235.50,153.3 235.54,147.8 235.58,158.9 235.62,134.3 235.66,144.1 235.71,151.7 235.75,146.8 235.79,128.0 235.83,148.3 235.87,142.2 235.91,164.3 235.95,145.0 235.99,151.0 236.04,138.4 236.08,151.1 236.12,127.1 236.16,137.7 236.20,142.7 236.24,133.0 236.28,153.4 236.33,145.7 236.37,158.8 236.41,134.1 236.45,138.8 236.49,150.8 236.53,141.2 236.57,152.1 236.62,150.5 236.66,138.9 236.70,146.0 236.74,149.4 236.78,146.9 236.82,142.9 236.86,140.4 236.91,142.6 236.95,152.9 236.99,162.1 237.03,131.9 237.07,135.3 237.11,142.5 237.15,156.7 237.20,136.2 237.24,164.4 237.28,164.0 237.32,122.1 237.36,149.6 237.40,148.8 237.44,139.4 237.49,126.1 237.53,145.6 237.57,139.3 237.61,153.9 237.65,148.1 237.69,133.9 237.73,161.1 237.78,160.0 237.82,156.8 237.86,143.1 237.90,151.3 237.94,143.3 237.98,136.9 238.02,123.9 238.07,144.8 238.11,122.5 238.15,148.8 238.19,128.3 238.23,143.8 238.27,138.7 238.31,130.0 238.36,130.9 238.40,135.4 238.44,156.3 238.48,144.9 238.52,138.1 238.56,149.3 238.60,128.5 238.65,124.7 238.69,131.0 238.73,151.0 238.77,136.9 238.81,141.1 238.85,141.0 238.89,135.1 238.94,152.8 238.98,147.0 239.02,129.9 239.06,127.8 239.10,138.2 239.14,128.6 239.18,138.2 239.23,145.9 239.27,138.5 239.31,139.7 239.35,132.1 239.39,128.6 239.43,126.1 239.47,150.7 239.52,128.5 239.56,137.3 239.60,137.4 239.64,140.8 239.68,132.4 239.72,118.7 239.76,157.7 239.81,124.0 239.85,141.5 239.89,123.6 239.93,141.8 239.97,123.3 240.01,152.3 240.05,139.1 240.10,117.3 240.14,151.6 240.18,113.8 240.22,129.9 240.26,144.9 240.30,129.0 240.34,146.4 240.39,133.1 240.43,126.3 240.47,145.4 240.51,132.6 240.55,127.0 240.59,141.6 240.63,128.9 240.68,117.0 240.72,123.5 240.76,155.5 240.80,151.9 240.84,114.4 240.88,138.6 240.92,143.0 240.97,127.1 241.01,136.8 241.05,118.9 241.09,125.7 241.13,139.5 241.17,127.8 241.21,126.5 241.26,125.3 241.30,113.9 241.34,116.9 241.38,121.4 241.42,125.2 241.46,117.5 241.50,144.6 241.55,108.1 241.59,114.5 241.63,118.5 241.67,129.7 241.71,110.2 241.75,126.4 241.79,115.4 241.84,115.7 241.88,127.2 241.92,130.6 241.96,132.3 242.00,110.9 242.04,131.6 242.08,131.4 242.13,124.4 242.17,125.2 242.21,121.1 242.25,119.0 242.29,128.1 242.33,135.3 242.37,117.2 242.42,122.6 242.46,127.5 242.50,106.1 242.54,133.3 242.58,121.5 242.62,130.9 242.66,115.0 242.71,109.5 242.75,115.7 242.79,119.4 242.83,108.2 242.87,124.1 242.91,118.2 242.95,106.3 243.00,119.3 243.04,113.7 243.08,115.1 243.12,111.2 243.16,108.3 243.20,103.8 243.24,115.1 243.29,114.3 243.33,118.0 243.37,107.4 243.41,117.2 243.45,120.5 243.49,102.9 243.53,114.5 243.58,131.7 243.62,108.0 243.66,109.4 243.70,111.5 243.74,107.1 243.78,118.9 243.82,110.5 243.87,110.1 243.91,104.0 243.95,115.3 243.99,109.5 244.03,106.7 244.07,107.2 244.11,123.4 244.16,109.5 244.20,111.6 244.24,120.7 244.28,108.0 244.32,117.0 244.36,99.8 244.40,114.0 244.45,89.9 244.49,109.2 244.53,104.0 244.57,101.4 244.61,116.6 244.65,113.5 244.69,114.3 244.74,119.6 244.78,111.1 244.82,111.3 244.86,105.6 244.90,122.1 244.94,113.4 244.98,98.8 245.03,97.9 245.07,98.7 245.11,98.6 245.15,115.8 245.19,107.1 245.23,113.4 245.27,97.5 245.32,97.3 245.36,114.1 245.40,86.3 245.44,93.0 245.48,84.9 245.52,97.0 245.56,122.8 245.61,95.5 245.65,110.8 245.69,115.6 245.73,95.4 245.77,94.7 245.81,103.4 245.85,106.0 245.90,86.3 245.94,92.5 245.98,113.5 246.02,91.9 246.06,101.9 246.10,107.3 246.14,95.1 246.19,96.2 246.23,92.6 246.27,91.3 246.31,91.4 246.35,82.1 246.39,91.7 246.43,93.9 246.48,101.7 246.52,91.5 246.56,89.0 246.60,111.2 246.64,94.1 246.68,91.9 246.72,89.0 246.77,93.2 246.81,85.3 246.85,88.1 246.89,84.8 246.93,81.3 246.97,87.7 247.01,79.1 247.06,106.4 247.10,80.5 247.14,106.1 247.18,93.0 247.22,97.7 247.26,102.5 247.30,74.5 247.35,103.6 247.39,93.0 247.43,84.0 247.47,81.3 247.51,90.9 247.55,73.1 247.59,103.2 247.64,85.4 247.68,93.7 247.72,87.5 247.76,82.3 247.80,82.4 247.84,77.7 247.88,96.6 247.92,84.9 247.97,89.4 248.01,88.7 248.05,90.2 248.09,87.8 248.13,94.8 248.17,77.1 248.21,73.6 248.26,81.2 248.30,78.8 248.34,82.0 248.38,91.8 248.42,89.5 248.46,85.5 248.50,72.9 248.55,84.3 248.59,80.9 248.63,85.8 248.67,78.5 248.71,41.7 248.75,78.9 248.79,70.8 248.84,69.0 248.88,78.7 248.92,76.3 248.96,85.0 249.00,76.9 249.04,64.4 249.08,87.2 249.13,89.2 249.17,63.9 249.21,68.0 249.25,82.1 249.29,74.4 249.33,58.8 249.37,82.3 249.42,72.3 249.46,74.1 249.50,81.5 249.54,64.2 249.58,63.2 249.62,75.6 249.66,77.6 249.71,69.7 249.75,79.0 249.79,71.8 249.83,77.6 249.87,59.6 249.91,64.8 249.95,76.1 250.00,58.1 250.04,58.4 250.08,66.7 250.12,62.8 250.16,56.4 250.20,49.8 250.24,77.1 250.29,64.9 250.33,77.2 250.37,56.0 250.41,64.5 250.45,62.2 250.49,64.3 250.53,48.9 250.58,74.1 250.62,38.9 250.66,64.5 250.70,53.4 250.74,76.0 250.78,48.2 250.82,34.4 250.87,57.9 250.91,58.1 250.95,55.0 250.99,73.5 251.03,53.0 251.07,52.6 251.11,51.7 251.16,83.9 251.20,64.7 251.24,53.2 251.28,64.1 251.32,73.0 251.36,65.3 251.40,62.3 251.45,49.6 251.49,72.3 251.53,64.3 251.57,45.4 251.61,51.3 251.65,36.5 251.69,62.6 251.74,47.1 251.78,55.8 251.82,70.4 251.86,45.6 251.90,65.9 251.94,55.6 251.98,48.8 252.03,69.7 252.07,62.1 252.11,52.4 252.15,63.2 252.19,53.4 252.23,51.1 252.27,55.5 252.32,67.5 252.36,44.9 252.40,47.5 252.44,66.7 252.48,46.8 252.52,57.3 252.56,56.5 252.61,48.0 252.65,52.8 252.69,58.3 252.73,58.7 252.77,65.0 252.81,61.5 252.85,67.6 252.90,61.6 252.94,56.1 252.98,65.4 253.02,64.0 253.06,68.0 253.10,59.6 253.14,60.1 253.19,60.6 253.23,49.1 253.27,66.4 253.31,57.0 253.35,56.6 253.39,60.4 253.43,82.1 253.48,57.4 253.52,77.9 253.56,46.7 253.60,62.9 253.64,82.7 253.68,67.8 253.72,70.0 253.77,62.0 253.81,50.0 253.85,72.3 253.89,76.4 253.93,78.0 253.97,86.1 254.01,68.7 254.06,74.5 254.10,51.1 254.14,67.5 254.18,72.3 254.22,82.8 254.26,88.3 254.30,86.6 254.35,76.6 254.39,71.7 254.43,72.6 254.47,73.2 254.51,75.3 254.55,85.1 254.59,36.9 254.64,60.1 254.68,64.7 254.72,98.1 254.76,88.6 254.80,72.1 254.84,74.6 254.88,84.1 254.93,80.6 254.97,81.1 255.01,60.4 255.05,66.1 255.09,80.5 255.13,85.8 255.17,82.6 255.22,94.5 255.26,80.8 255.30,83.0 255.34,81.5 255.38,90.1 255.42,75.9 255.46,100.5 255.51,72.3 255.55,89.5 255.59,89.3 255.63,97.5 255.67,73.0 255.71,75.3 255.75,81.2 255.80,90.7 255.84,92.2 255.88,62.6 255.92,82.1 255.96,87.5 256.00,88.7 256.04,89.1 256.09,84.8 256.13,87.4 256.17,69.6 256.21,94.8 256.25,65.3 256.29,85.8 256.33,79.4 256.38,90.9 256.42,79.3 256.46,96.4 256.50,91.8 256.54,94.6 256.58,99.0 256.62,99.9 256.67,88.1 256.71,97.4 256.75,94.7 256.79,97.6 256.83,92.3 256.87,69.8 256.91,89.2 256.96,91.6 257.00,87.5 257.04,86.0 257.08,93.9 257.12,86.7 257.16,99.0 257.20,104.6 257.25,93.8 257.29,101.6 257.33,83.7 257.37,85.7 257.41,92.0 257.45,86.6 257.49,95.9 257.54,96.4 257.58,110.2 257.62,91.6 257.66,107.8 257.70,87.9 257.74,95.1 257.78,104.8 257.83,100.6 257.87,76.7 257.91,97.8 257.95,102.6 257.99,85.4 258.03,95.1 258.07,96.6 258.12,103.1 258.16,111.1 258.20,88.1 258.24,92.5 258.28,114.6 258.32,111.5 258.36,116.4 258.41,101.3 258.45,110.9 258.49,80.8 258.53,106.4 258.57,94.1 258.61,90.5 258.65,93.6 258.70,112.3 258.74,116.9 258.78,99.6 258.82,101.1 258.86,114.9 258.90,98.8 258.94,107.3 258.99,110.8 259.03,116.2 259.07,103.4 259.11,84.7 259.15,104.6 259.19,112.8 259.23,102.8 259.28,102.1 259.32,99.0 259.36,111.5 259.40,109.4 259.44,110.7 259.48,108.6 259.52,120.1 259.56,112.0 259.61,108.7 259.65,99.7 259.69,106.3 259.73,110.1 259.77,123.5 259.81,114.9 259.85,108.0 259.90,117.9 259.94,117.1 259.98,107.8 260.02,116.2 260.06,102.8 260.10,113.6 260.14,130.7 260.19,121.9 260.23,119.1 260.27,87.0 260.31,120.4 260.35,104.3 260.39,110.8 260.43,109.1 260.48,119.4 260.52,123.7 260.56,133.7 260.60,115.0 260.64,106.7 260.68,119.4 260.72,116.9 260.77,119.7 260.81,117.9 260.85,122.4 260.89,113.4 260.93,121.2 260.97,127.4 261.01,120.8 261.06,124.3 261.10,114.3 261.14,127.5 261.18,119.5 261.22,115.0 261.26,119.1 261.30,118.0 261.35,120.1 261.39,117.2 261.43,136.7 261.47,130.1 261.51,126.7 261.55,126.9 261.59,122.5 261.64,130.5 261.68,121.9 261.72,123.5 261.76,117.9 261.80,134.9 261.84,134.9 261.88,134.4 261.93,134.9 261.97,105.9 262.01,126.9 262.05,134.9 262.09,130.8 262.13,113.8 262.17,129.7 262.22,133.2 262.26,123.2 262.30,118.4 262.34,123.2 262.38,108.1 262.42,130.9 262.46,121.9 262.51,126.6 262.55,128.1 262.59,129.0 262.63,143.1 262.67,123.3 262.71,128.6 262.75,113.2 262.80,125.5 262.84,115.4 262.88,137.8 262.92,131.6 262.96,127.0 263.00,139.6 263.04,124.0 263.09,131.2 263.13,125.9 263.17,125.1 263.21,131.3 263.25,128.2 263.29,132.4 263.33,124.0 263.38,120.0 263.42,146.8 263.46,138.0 263.50,131.3 263.54,137.0 263.58,125.6 263.62,139.0 263.67,121.5 263.71,140.4 263.75,139.7 263.79,135.6 263.83,143.7 263.87,135.9 263.91,154.1 263.96,143.7 264.00,121.4 264.04,127.0 264.08,155.3 264.12,132.1 264.16,142.0 264.20,132.5 264.25,155.2 264.29,151.0 264.33,148.1 264.37,134.7 264.41,136.2 264.45,155.6 264.49,133.7 264.54,115.4 264.58,158.8 264.62,152.3 264.66,125.4 264.70,144.5 264.74,148.7 264.78,144.3 264.83,162.2 264.87,157.5 264.91,132.6 264.95,140.7 264.99,154.5 265.03,155.0 265.07,138.8 265.12,158.1 265.16,132.8 265.20,154.7 265.24,120.7 265.28,150.6 265.32,171.9 265.36,165.1 265.41,183.7 265.45,111.3 265.49,149.0 265.53,160.0 265.57,146.6 265.61,148.3 265.65,125.9 265.70,137.4 265.74,127.1 265.78,126.8 265.82,136.8 265.86,163.6 265.90,149.1 265.94,133.4 265.99,141.6 266.03,130.9 266.07,135.8 266.11,146.0 266.15,123.0 266.19,147.2 266.23,134.7 266.28,157.7 266.32,130.4 266.36,145.8 266.40,131.3 266.44,149.7 266.48,119.3 266.52,135.5 266.57,130.9 266.61,121.2 266.65,137.4 266.69,139.7 266.73,134.3 266.77,128.6 266.81,132.9 266.86,132.4 266.90,155.8 266.94,148.9 266.98,159.3 267.02,154.3 267.06,165.8 267.10,142.8 267.15,146.0 267.19,143.6 267.23,137.4 267.27,151.1 267.31,147.6 267.35,148.9 267.39,146.0 267.44,156.0 267.48,124.5 267.52,149.9 267.56,142.0 267.60,134.4 267.64,138.2 267.68,148.7 267.73,152.8 267.77,139.4 267.81,151.3 267.85,146.9 267.89,155.2 267.93,155.0 267.97,151.8 268.02,137.6 268.06,128.1 268.10,159.4 268.14,132.0 268.18,152.4 268.22,143.2 268.26,162.4 268.31,141.0 268.35,138.6 268.39,117.5 268.43,149.8 268.47,142.3 268.51,135.3 268.55,137.8 268.60,157.6 268.64,147.3 268.68,152.5 268.72,139.9 268.76,146.4 268.80,153.7 268.84,139.8 268.89,157.7 268.93,140.3 268.97,164.9 269.01,137.0 269.05,138.3 269.09,144.8 269.13,139.6 269.18,142.4 269.22,143.3 269.26,156.9 269.30,138.4 269.34,156.3 269.38,153.1 269.42,145.3 269.47,141.7 269.51,163.8 269.55,117.2 269.59,139.0 269.63,142.6 269.67,149.4 269.71,144.4 269.76,153.4 269.80,149.6 269.84,155.0 269.88,138.0 269.92,148.8 269.96,160.7 270.00,137.7 270.05,146.1 270.09,130.4 270.13,148.1 270.17,136.6 270.21,150.2 270.25,133.1 270.29,144.5 270.34,134.4 270.38,143.8 270.42,148.1 270.46,165.6 270.50,148.1 270.54,148.6 270.58,161.2 270.63,154.1 270.67,134.7 270.71,149.2 270.75,145.5 270.79,151.8 270.83,149.2 270.87,128.8 270.92,139.5 270.96,160.3 271.00,152.0 271.04,136.9 271.08,140.2 271.12,142.0 271.16,132.8 271.21,123.2 271.25,148.6 271.29,135.2 271.33,138.2 271.37,137.7 271.41,140.8 271.45,140.4 271.49,156.9 271.54,141.6 271.58,149.1 271.62,144.1 271.66,154.7 271.70,145.4 271.74,128.5 271.78,158.9 271.83,157.8 271.87,150.0 271.91,132.4 271.95,155.0 271.99,147.6 272.03,138.6 272.07,140.7 272.12,153.8 272.16,140.3 272.20,143.9 272.24,139.6 272.28,149.1 272.32,138.8 272.36,149.6 272.41,143.2 272.45,160.2 272.49,142.4 272.53,146.4 272.57,152.6 272.61,151.9 272.65,135.4 272.70,147.3 272.74,148.9 272.78,150.9 272.82,145.2 272.86,156.4 272.90,155.7 272.94,144.2 272.99,139.7 273.03,146.3 273.07,150.6 273.11,154.0 273.15,139.9 273.19,143.2 273.23,135.2 273.28,141.5 273.32,154.4 273.36,160.5 273.40,152.3 273.44,147.2 273.48,146.5 273.52,159.7 273.57,155.4 273.61,149.5 273.65,145.0 273.69,143.5 273.73,148.2 273.77,159.4 273.81,146.7 273.86,146.0 273.90,149.8 273.94,146.4 273.98,154.1 274.02,141.3 274.06,148.5 274.10,143.3 274.15,153.4 274.19,148.7 274.23,142.5 274.27,143.9 274.31,147.1 274.35,157.4 274.39,151.0 274.44,149.2 274.48,140.0 274.52,136.2 274.56,135.7 274.60,142.3 274.64,149.6 274.68,147.0 274.73,154.9 274.77,138.4 274.81,144.9 274.85,144.5 274.89,138.9 274.93,129.8 274.97,140.1 275.02,153.4 275.06,132.7 275.10,152.9 275.14,153.1 275.18,144.9 275.22,148.4 275.26,145.0 275.31,146.2 275.35,157.7 275.39,155.4 275.43,154.2 275.47,148.2 275.51,145.0 275.55,148.2 275.60,135.2 275.64,138.6 275.68,146.5 275.72,130.6 275.76,145.8 275.80,165.9 275.84,144.1 275.89,144.5 275.93,139.7 275.97,163.9 276.01,128.3 276.05,138.8 276.09,129.3 276.13,148.2 276.18,153.3 276.22,161.5 276.26,138.3 276.30,151.1 276.34,136.6 276.38,144.2 276.42,150.9 276.47,130.8 276.51,143.1 276.55,138.6 276.59,148.2 276.63,152.4 276.67,130.3 276.71,143.4 276.76,130.9 276.80,121.8 276.84,133.5 276.88,137.8 276.92,132.2 276.96,133.1 277.00,157.2 277.05,123.0 277.09,155.3 277.13,158.9 277.17,146.0 277.21,170.0 277.25,149.1 277.29,146.0 277.34,136.0 277.38,140.9 277.42,148.4 277.46,145.5 277.50,147.1 277.54,148.2 277.58,165.8 277.63,135.7 277.67,139.8 277.71,138.1 277.75,129.1 277.79,142.9 277.83,133.9 277.87,155.0 277.92,134.4 277.96,146.2 278.00,120.4 278.04,141.4 278.08,154.8 278.12,143.7 278.16,150.8 278.21,145.5 278.25,139.3 278.29,148.8 278.33,147.8 278.37,147.5 278.41,135.4 278.45,136.5 278.50,113.7 278.54,143.5 278.58,129.0 278.62,172.3 278.66,152.5 278.70,144.4 278.74,146.9 278.79,132.5 278.83,148.0 278.87,142.0 278.91,144.2 278.95,140.1 278.99,177.8 279.03,126.5 279.08,144.7 279.12,145.3 279.16,154.2 279.20,148.5 279.24,134.9 279.28,143.6 279.32,162.5 279.37,156.4 279.41,135.9 279.45,144.1 279.49,139.6 279.53,160.2 279.57,135.3 279.61,160.2 279.66,165.1 279.70,139.5 279.74,174.1 279.78,138.0 279.82,138.4 279.86,152.3 279.90,133.6 279.95,142.7 279.99,123.5 280.03,135.0 280.07,142.4 280.11,120.5 280.15,151.8 280.19,152.4 280.24,139.2 280.28,151.0 280.32,151.0 280.36,128.2 280.40,149.1 280.44,143.9 280.48,130.0 280.53,146.4 280.57,123.3 280.61,101.7 280.65,147.3 280.69,144.1 280.73,169.7 280.77,135.0 280.82,154.7 280.86,125.7 280.90,121.4 280.94,135.0 280.98,144.0 281.02,139.7 281.06,158.9 281.11,160.0 281.15,118.9 281.19,131.6 281.23,170.7 281.27,163.2 281.31,120.7 281.35,127.6 281.40,173.9 281.44,124.1 281.48,161.4 281.52,101.6 281.56,136.7 281.60,122.7 281.64,145.8 281.69,161.7 281.73,147.8 281.77,157.1 281.81,159.7 281.85,167.9 281.89,144.9 281.93,105.7 281.98,111.8 282.02,154.0 282.06,149.1 282.10,156.8 282.14,132.1 282.18,129.0 282.22,104.7 282.27,116.8 282.31,133.3 282.35,123.6 282.39,106.5 282.43,159.9 282.47,134.6 282.51,138.6 282.56,135.7 282.60,133.1 282.64,114.8 282.68,148.2 282.72,123.0 282.76,114.9 282.80,154.4 282.85,134.2 282.89,142.9 282.93,98.7 282.97,162.7 283.01,117.0 283.05,111.4 283.09,124.2 283.14,114.1 283.18,115.4 283.22,139.5 283.26,156.5 283.30,126.4 283.34,130.7 283.38,131.7 283.42,133.7 283.47,107.7 283.51,160.0 283.55,104.3 283.59,118.0 283.63,166.2 283.67,127.2 283.71,111.2 283.76,131.1 283.80,170.9 283.84,130.1 283.88,108.7 283.92,132.8 283.96,134.1 284.00,177.0 284.05,132.5 284.09,87.6 284.13,136.1 284.17,131.6 284.21,129.3 284.25,115.9 284.29,151.6 284.34,139.2 284.38,151.1 284.42,116.0 284.46,140.2 284.50,157.3 284.54,151.5 284.58,109.5 284.63,125.1 284.67,114.0 284.71,120.1 284.75,124.9 284.79,155.8 284.83,151.3 284.87,121.9 284.92,139.7 284.96,113.4 285.00,101.7 285.04,90.3 285.08,108.1 285.12,157.8 285.16,126.1 285.21,131.9 285.25,140.6 285.29,87.9 285.33,117.6 285.37,122.0 285.41,143.3 285.45,128.2 285.50,91.8 285.54,90.9 285.58,125.6 285.62,123.7 285.66,95.7 285.70,95.7 285.74,120.8 285.79,96.6 285.83,125.0 285.87,114.6 285.91,113.7 285.95,151.6 285.99,103.9 286.03,98.6 286.08,108.7 286.12,77.1 286.16,130.2 286.20,127.8 286.24,118.0 286.28,115.8 286.32,114.7 286.37,89.8 286.41,112.8 286.45,114.6 286.49,128.8 286.53,119.6 286.57,131.6 286.61,125.8 286.66,80.7 286.70,101.4 286.74,124.5 286.78,106.7 286.82,113.4 286.86,127.7 286.90,96.6 286.95,116.2 286.99,66.4 287.03,113.6 287.07,100.8 287.11,112.8 287.15,106.1 287.19,91.3 287.24,122.9 287.28,112.3 287.32,80.3 287.36,131.9 287.40,95.6 287.44,112.5 287.48,118.8 287.53,108.8 287.57,89.4 287.61,70.9 287.65,100.9 287.69,114.0 287.73,89.4 287.77,103.0 287.82,131.4 287.86,92.6 287.90,150.1 287.94,115.6 287.98,88.6 288.02,116.0 288.06,104.7 288.11,131.0 288.15,86.8 288.19,120.0 288.23,89.2 288.27,113.7 288.31,133.7 288.35,110.0 288.40,130.6 288.44,102.1 288.48,123.1 288.52,95.7 288.56,102.3 288.60,106.9 288.64,80.8 288.69,90.2 288.73,95.6 288.77,135.3 288.81,108.2 288.85,85.4 288.89,84.1 288.93,103.2 288.98,85.0 289.02,107.8 289.06,85.2 289.10,85.8" fill="none" stroke="#000" stroke-width="0.4"/>
<rect x="40.6" y="14.6" width="248.5" height="200.7" fill="none" stroke="#404040" stroke-width="1.2"/>
<line x1="40.6" y1="215.3" x2="44.6" y2="215.3" stroke="#404040" stroke-width="1.1"/>
<text x="35.6" y="219.5" text-anchor="end" class="t12">-3</text>
<line x1="40.6" y1="181.9" x2="44.6" y2="181.9" stroke="#404040" stroke-width="1.1"/>
<text x="35.6" y="186.1" text-anchor="end" class="t12">-2</text>
<line x1="40.6" y1="148.4" x2="44.6" y2="148.4" stroke="#404040" stroke-width="1.1"/>
<text x="35.6" y="152.6" text-anchor="end" class="t12">-1</text>
<line x1="40.6" y1="115.0" x2="44.6" y2="115.0" stroke="#404040" stroke-width="1.1"/>
<text x="35.6" y="119.2" text-anchor="end" class="t12">0</text>
<line x1="40.6" y1="81.5" x2="44.6" y2="81.5" stroke="#404040" stroke-width="1.1"/>
<text x="35.6" y="85.7" text-anchor="end" class="t12">1</text>
<line x1="40.6" y1="48.1" x2="44.6" y2="48.1" stroke="#404040" stroke-width="1.1"/>
<text x="35.6" y="52.3" text-anchor="end" class="t12">2</text>
<line x1="40.6" y1="14.6" x2="44.6" y2="14.6" stroke="#404040" stroke-width="1.1"/>
<text x="35.6" y="18.8" text-anchor="end" class="t12">3</text>
<line x1="40.6" y1="198.6" x2="43.1" y2="198.6" stroke="#404040" stroke-width="1.1"/>
<line x1="40.6" y1="165.1" x2="43.1" y2="165.1" stroke="#404040" stroke-width="1.1"/>
<line x1="40.6" y1="131.7" x2="43.1" y2="131.7" stroke="#404040" stroke-width="1.1"/>
<line x1="40.6" y1="98.2" x2="43.1" y2="98.2" stroke="#404040" stroke-width="1.1"/>
<line x1="40.6" y1="64.8" x2="43.1" y2="64.8" stroke="#404040" stroke-width="1.1"/>
<line x1="40.6" y1="31.3" x2="43.1" y2="31.3" stroke="#404040" stroke-width="1.1"/>
<line x1="40.6" y1="215.3" x2="40.6" y2="211.70000000000002" stroke="#404040" stroke-width="1.1"/>
<text x="40.6" y="229.6" text-anchor="middle" class="t12">0</text>
<line x1="90.3" y1="215.3" x2="90.3" y2="211.70000000000002" stroke="#404040" stroke-width="1.1"/>
<text x="90.3" y="229.6" text-anchor="middle" class="t12">200</text>
<line x1="140.0" y1="215.3" x2="140.0" y2="211.70000000000002" stroke="#404040" stroke-width="1.1"/>
<text x="140.0" y="229.6" text-anchor="middle" class="t12">400</text>
<line x1="189.7" y1="215.3" x2="189.7" y2="211.70000000000002" stroke="#404040" stroke-width="1.1"/>
<text x="189.7" y="229.6" text-anchor="middle" class="t12">600</text>
<line x1="239.4" y1="215.3" x2="239.4" y2="211.70000000000002" stroke="#404040" stroke-width="1.1"/>
<text x="239.4" y="229.6" text-anchor="middle" class="t12">800</text>
<line x1="289.1" y1="215.3" x2="289.1" y2="211.70000000000002" stroke="#404040" stroke-width="1.1"/>
<text x="289.1" y="229.6" text-anchor="middle" class="t12">1000</text>
<line x1="65.5" y1="215.3" x2="65.5" y2="213.10000000000002" stroke="#404040" stroke-width="1.1"/>
<line x1="115.2" y1="215.3" x2="115.2" y2="213.10000000000002" stroke="#404040" stroke-width="1.1"/>
<line x1="164.9" y1="215.3" x2="164.9" y2="213.10000000000002" stroke="#404040" stroke-width="1.1"/>
<line x1="214.6" y1="215.3" x2="214.6" y2="213.10000000000002" stroke="#404040" stroke-width="1.1"/>
<line x1="264.3" y1="215.3" x2="264.3" y2="213.10000000000002" stroke="#404040" stroke-width="1.1"/>
<text x="165.2" y="248.5" text-anchor="middle" class="t13">time(ps)</text>
<text transform="translate(9.6,119) rotate(-90)" text-anchor="middle" class="t13">Lateral force(nN)</text>
<text x="1.0" y="11.8" class="sans">(a)</text>
<polyline points="388.3,31.4 419.4,38.4 450.4,39.8 481.5,58.4 512.6,61.7 543.6,108.3 574.7,127.9 605.8,145.9" fill="none" stroke="#000000" stroke-width="1.1"/>
<polyline points="388.3,32.6 419.4,40.8 450.4,42.0 481.5,61.7 512.6,71.9 543.6,103.6 574.7,122.6 605.8,161.9" fill="none" stroke="#ff0000" stroke-width="1.1"/>
<polyline points="388.3,33.2 419.4,42.4 450.4,45.0 481.5,62.4 512.6,82.0 543.6,118.3 574.7,144.0 605.8,174.5" fill="none" stroke="#00ff00" stroke-width="1.1"/>
<polyline points="388.3,33.4 419.4,44.3 450.4,48.3 481.5,64.3 512.6,83.9 543.6,108.8 574.7,140.8 605.8,169.8" fill="none" stroke="#0000ff" stroke-width="1.1"/>
<polyline points="388.3,34.2 419.4,46.7 450.4,51.2 481.5,70.2 512.6,86.8 543.6,129.6 574.7,159.4 605.8,186.1" fill="none" stroke="#00ffff" stroke-width="1.1"/>
<circle cx="388.3" cy="31.4" r="2.2" fill="#000000"/>
<circle cx="419.4" cy="38.4" r="2.2" fill="#000000"/>
<circle cx="450.4" cy="39.8" r="2.2" fill="#000000"/>
<circle cx="481.5" cy="58.4" r="2.2" fill="#000000"/>
<circle cx="512.6" cy="61.7" r="2.2" fill="#000000"/>
<circle cx="543.6" cy="108.3" r="2.2" fill="#000000"/>
<circle cx="574.7" cy="127.9" r="2.2" fill="#000000"/>
<circle cx="605.8" cy="145.9" r="2.2" fill="#000000"/>
<polygon points="385.7,30.4 390.9,30.4 388.3,35.2" fill="#ff0000"/>
<polygon points="416.7,38.6 422.0,38.6 419.4,43.4" fill="#ff0000"/>
<polygon points="447.8,39.8 453.1,39.8 450.4,44.6" fill="#ff0000"/>
<polygon points="478.9,59.5 484.1,59.5 481.5,64.3" fill="#ff0000"/>
<polygon points="509.9,69.7 515.2,69.7 512.6,74.5" fill="#ff0000"/>
<polygon points="541.0,101.4 546.3,101.4 543.6,106.2" fill="#ff0000"/>
<polygon points="572.1,120.4 577.4,120.4 574.7,125.2" fill="#ff0000"/>
<polygon points="603.1,159.7 608.4,159.7 605.8,164.5" fill="#ff0000"/>
<polygon points="390.5,30.6 390.5,35.8 385.7,33.2" fill="#00ff00"/>
<polygon points="421.6,39.8 421.6,45.0 416.7,42.4" fill="#00ff00"/>
<polygon points="452.6,42.4 452.6,47.6 447.8,45.0" fill="#00ff00"/>
<polygon points="483.7,59.8 483.7,65.0 478.9,62.4" fill="#00ff00"/>
<polygon points="514.8,79.4 514.8,84.6 509.9,82.0" fill="#00ff00"/>
<polygon points="545.9,115.7 545.9,120.9 541.0,118.3" fill="#00ff00"/>
<polygon points="576.9,141.4 576.9,146.6 572.1,144.0" fill="#00ff00"/>
<polygon points="608.0,171.9 608.0,177.1 603.1,174.5" fill="#00ff00"/>
<circle cx="388.3" cy="33.4" r="2.2" fill="#0000ff"/>
<circle cx="419.4" cy="44.3" r="2.2" fill="#0000ff"/>
<circle cx="450.4" cy="48.3" r="2.2" fill="#0000ff"/>
<circle cx="481.5" cy="64.3" r="2.2" fill="#0000ff"/>
<circle cx="512.6" cy="83.9" r="2.2" fill="#0000ff"/>
<circle cx="543.6" cy="108.8" r="2.2" fill="#0000ff"/>
<circle cx="574.7" cy="140.8" r="2.2" fill="#0000ff"/>
<circle cx="605.8" cy="169.8" r="2.2" fill="#0000ff"/>
<circle cx="388.3" cy="34.2" r="2.2" fill="#00ffff"/>
<circle cx="419.4" cy="46.7" r="2.2" fill="#00ffff"/>
<circle cx="450.4" cy="51.2" r="2.2" fill="#00ffff"/>
<circle cx="481.5" cy="70.2" r="2.2" fill="#00ffff"/>
<circle cx="512.6" cy="86.8" r="2.2" fill="#00ffff"/>
<circle cx="543.6" cy="129.6" r="2.2" fill="#00ffff"/>
<circle cx="574.7" cy="159.4" r="2.2" fill="#00ffff"/>
<circle cx="605.8" cy="186.1" r="2.2" fill="#00ffff"/>
<rect x="357.7" y="14.2" width="278.7" height="201.8" fill="none" stroke="#404040" stroke-width="1.2"/>
<line x1="357.7" y1="31.9" x2="361.2" y2="31.9" stroke="#404040" stroke-width="1.1"/>
<text x="352.8" y="36.1" text-anchor="end" class="t12">0.0</text>
<line x1="357.7" y1="68.7" x2="361.2" y2="68.7" stroke="#404040" stroke-width="1.1"/>
<text x="352.8" y="72.9" text-anchor="end" class="t12">-0.2</text>
<line x1="357.7" y1="105.5" x2="361.2" y2="105.5" stroke="#404040" stroke-width="1.1"/>
<text x="352.8" y="109.7" text-anchor="end" class="t12">-0.4</text>
<line x1="357.7" y1="142.4" x2="361.2" y2="142.4" stroke="#404040" stroke-width="1.1"/>
<text x="352.8" y="146.6" text-anchor="end" class="t12">-0.6</text>
<line x1="357.7" y1="179.2" x2="361.2" y2="179.2" stroke="#404040" stroke-width="1.1"/>
<text x="352.8" y="183.4" text-anchor="end" class="t12">-0.8</text>
<line x1="357.7" y1="216.0" x2="361.2" y2="216.0" stroke="#404040" stroke-width="1.1"/>
<text x="352.8" y="220.2" text-anchor="end" class="t12">-1.0</text>
<line x1="357.7" y1="50.3" x2="359.9" y2="50.3" stroke="#404040" stroke-width="1.1"/>
<line x1="357.7" y1="87.1" x2="359.9" y2="87.1" stroke="#404040" stroke-width="1.1"/>
<line x1="357.7" y1="123.9" x2="359.9" y2="123.9" stroke="#404040" stroke-width="1.1"/>
<line x1="357.7" y1="160.8" x2="359.9" y2="160.8" stroke="#404040" stroke-width="1.1"/>
<line x1="357.7" y1="197.6" x2="359.9" y2="197.6" stroke="#404040" stroke-width="1.1"/>
<line x1="388.3" y1="216.0" x2="388.3" y2="212.5" stroke="#404040" stroke-width="1.1"/>
<text x="382.1" y="229.9" text-anchor="middle" class="t12">graphene</text>
<line x1="419.4" y1="216.0" x2="419.4" y2="212.5" stroke="#404040" stroke-width="1.1"/>
<text x="420.7" y="229.9" text-anchor="middle" class="t12">100.0</text>
<line x1="450.4" y1="216.0" x2="450.4" y2="212.5" stroke="#404040" stroke-width="1.1"/>
<text x="450.4" y="229.9" text-anchor="middle" class="t12">50.0</text>
<line x1="481.5" y1="216.0" x2="481.5" y2="212.5" stroke="#404040" stroke-width="1.1"/>
<text x="481.5" y="229.9" text-anchor="middle" class="t12">25.0</text>
<line x1="512.6" y1="216.0" x2="512.6" y2="212.5" stroke="#404040" stroke-width="1.1"/>
<text x="512.6" y="229.9" text-anchor="middle" class="t12">16.67</text>
<line x1="543.6" y1="216.0" x2="543.6" y2="212.5" stroke="#404040" stroke-width="1.1"/>
<text x="543.6" y="229.9" text-anchor="middle" class="t12">12.50</text>
<line x1="574.7" y1="216.0" x2="574.7" y2="212.5" stroke="#404040" stroke-width="1.1"/>
<text x="574.7" y="229.9" text-anchor="middle" class="t12">10.0</text>
<line x1="605.8" y1="216.0" x2="605.8" y2="212.5" stroke="#404040" stroke-width="1.1"/>
<text x="605.8" y="229.9" text-anchor="middle" class="t12">6.25</text>
<text x="424.3" y="251" class="t13">The average grain-size(nm<tspan dy="-5" class="t8">2</tspan><tspan dy="5">)</tspan></text>
<text transform="translate(325,114.5) rotate(-90)" text-anchor="middle" class="t13" style="font-size:13.3px">Average friction&#160; force(nN)</text>
<text x="313.8" y="9.8" class="sans">(b)</text>
<text x="374.3" y="66.7" class="t12">v(nm/ps)</text>
<line x1="373.5" y1="78.6" x2="401.5" y2="78.6" stroke="#000000" stroke-width="1.1"/>
<circle cx="387.6" cy="78.6" r="2.2" fill="#000000"/>
<text x="405" y="82.3" class="t12">0.02</text>
<line x1="373.5" y1="93.8" x2="401.5" y2="93.8" stroke="#ff0000" stroke-width="1.1"/>
<polygon points="385.0,91.6 390.2,91.6 387.6,96.4" fill="#ff0000"/>
<text x="405" y="97.5" class="t12">0.04</text>
<line x1="373.5" y1="109.1" x2="401.5" y2="109.1" stroke="#00ff00" stroke-width="1.1"/>
<polygon points="389.8,106.5 389.8,111.7 385.0,109.1" fill="#00ff00"/>
<text x="405" y="112.8" class="t12">0.06</text>
<line x1="373.5" y1="124.4" x2="401.5" y2="124.4" stroke="#0000ff" stroke-width="1.1"/>
<circle cx="387.6" cy="124.4" r="2.2" fill="#0000ff"/>
<text x="405" y="128.1" class="t12">0.08</text>
<line x1="373.5" y1="139.7" x2="401.5" y2="139.7" stroke="#00ffff" stroke-width="1.1"/>
<circle cx="387.6" cy="139.7" r="2.2" fill="#00ffff"/>
<text x="405" y="143.4" class="t12">0.1</text>
</svg>
</body></html>
